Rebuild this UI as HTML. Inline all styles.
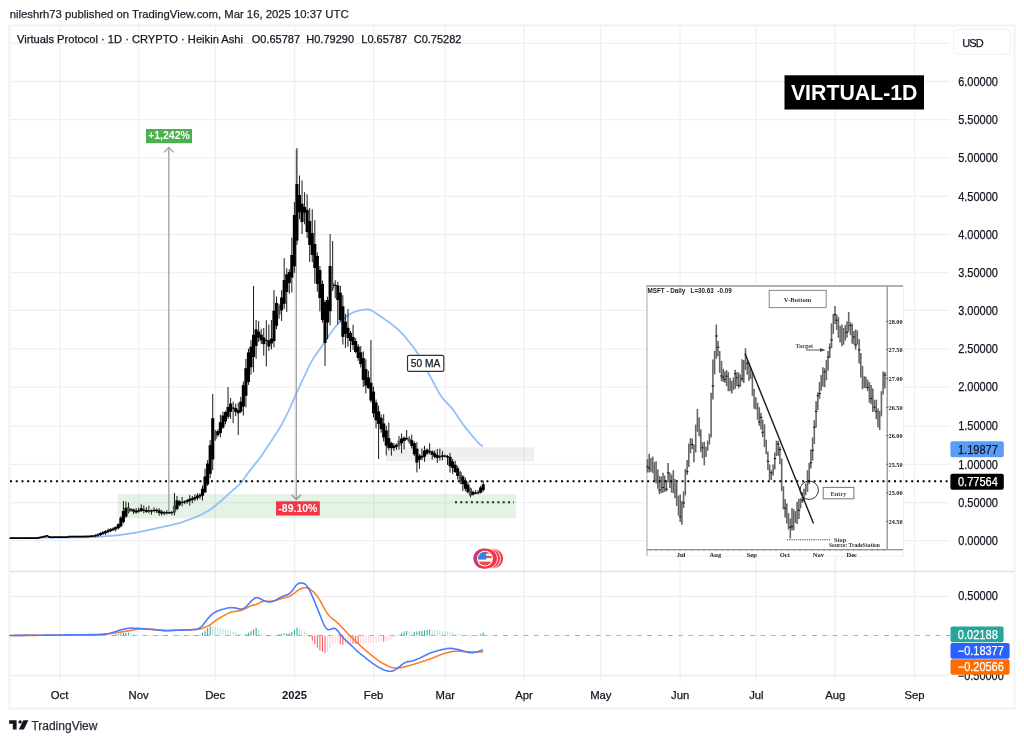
<!DOCTYPE html>
<html><head><meta charset="utf-8"><style>
html,body{margin:0;padding:0;background:#fff;width:1024px;height:742px;overflow:hidden;position:relative}
svg{will-change:transform}
</style></head><body>
<svg width="1024" height="742" viewBox="0 0 1024 742" style="position:absolute;left:0;top:0">
<rect width="1024" height="742" fill="#fff"/>
<line x1="10" y1="43.4" x2="950" y2="43.4" stroke="#f0f0f0" stroke-width="1.3"/>
<line x1="10" y1="81.5" x2="950" y2="81.5" stroke="#f0f0f0" stroke-width="1.3"/>
<line x1="10" y1="119.6" x2="950" y2="119.6" stroke="#f0f0f0" stroke-width="1.3"/>
<line x1="10" y1="157.9" x2="950" y2="157.9" stroke="#f0f0f0" stroke-width="1.3"/>
<line x1="10" y1="196.3" x2="950" y2="196.3" stroke="#f0f0f0" stroke-width="1.3"/>
<line x1="10" y1="234.5" x2="950" y2="234.5" stroke="#f0f0f0" stroke-width="1.3"/>
<line x1="10" y1="272.6" x2="950" y2="272.6" stroke="#f0f0f0" stroke-width="1.3"/>
<line x1="10" y1="310.4" x2="950" y2="310.4" stroke="#f0f0f0" stroke-width="1.3"/>
<line x1="10" y1="348.9" x2="950" y2="348.9" stroke="#f0f0f0" stroke-width="1.3"/>
<line x1="10" y1="387.2" x2="950" y2="387.2" stroke="#f0f0f0" stroke-width="1.3"/>
<line x1="10" y1="425.9" x2="950" y2="425.9" stroke="#f0f0f0" stroke-width="1.3"/>
<line x1="10" y1="464.3" x2="950" y2="464.3" stroke="#f0f0f0" stroke-width="1.3"/>
<line x1="10" y1="502.6" x2="950" y2="502.6" stroke="#f0f0f0" stroke-width="1.3"/>
<line x1="10" y1="540.7" x2="950" y2="540.7" stroke="#f0f0f0" stroke-width="1.3"/>
<line x1="10" y1="596.5" x2="950" y2="596.5" stroke="#f0f0f0" stroke-width="1.3"/>
<line x1="10" y1="675.5" x2="950" y2="675.5" stroke="#f0f0f0" stroke-width="1.3"/>
<line x1="59.6" y1="26" x2="59.6" y2="681" stroke="#f0f0f0" stroke-width="1.3"/>
<line x1="138.6" y1="26" x2="138.6" y2="681" stroke="#f0f0f0" stroke-width="1.3"/>
<line x1="215.2" y1="26" x2="215.2" y2="681" stroke="#f0f0f0" stroke-width="1.3"/>
<line x1="294.5" y1="26" x2="294.5" y2="681" stroke="#f0f0f0" stroke-width="1.3"/>
<line x1="373.6" y1="26" x2="373.6" y2="681" stroke="#f0f0f0" stroke-width="1.3"/>
<line x1="445.3" y1="26" x2="445.3" y2="681" stroke="#f0f0f0" stroke-width="1.3"/>
<line x1="524" y1="26" x2="524" y2="681" stroke="#f0f0f0" stroke-width="1.3"/>
<line x1="600.8" y1="26" x2="600.8" y2="681" stroke="#f0f0f0" stroke-width="1.3"/>
<line x1="680.1" y1="26" x2="680.1" y2="681" stroke="#f0f0f0" stroke-width="1.3"/>
<line x1="756.4" y1="26" x2="756.4" y2="681" stroke="#f0f0f0" stroke-width="1.3"/>
<line x1="835.2" y1="26" x2="835.2" y2="681" stroke="#f0f0f0" stroke-width="1.3"/>
<line x1="914.5" y1="26" x2="914.5" y2="681" stroke="#f0f0f0" stroke-width="1.3"/>
<rect x="117.5" y="494" width="398.5" height="24.3" fill="rgb(76,175,80)" fill-opacity="0.15"/>
<rect x="386" y="447.3" width="148" height="14" fill="rgb(120,123,134)" fill-opacity="0.12"/>
<rect x="9.5" y="25.5" width="1005" height="683" fill="none" stroke="#f2f2f2" stroke-width="2"/>
<line x1="10" y1="571.5" x2="1014" y2="571.5" stroke="#e0e3eb" stroke-width="1.5"/>
<line x1="10" y1="675.5" x2="950" y2="675.5" stroke="#f0f0f0" stroke-width="1.3"/>
<rect x="646.5" y="285.7" width="257" height="270.5" fill="#fff" stroke="#f0f0f0" stroke-width="1"/>
<line x1="647" y1="286" x2="647" y2="556" stroke="#b0b0b0" stroke-width="1"/>
<line x1="646.5" y1="286" x2="903" y2="286" stroke="#999" stroke-width="1.6"/>
<line x1="887.2" y1="287" x2="887.2" y2="549" stroke="#888" stroke-width="1.2"/>
<line x1="647" y1="549.7" x2="903" y2="549.7" stroke="#707070" stroke-width="1.1"/>
<line x1="647.5" y1="459.2" x2="647.5" y2="472.5" stroke="#666" stroke-width="1.6"/>
<line x1="646.3" y1="466.8" x2="648.9" y2="466.8" stroke="#1a1a1a" stroke-width="1.1"/>
<line x1="649.2" y1="453.7" x2="649.2" y2="472.4" stroke="#666" stroke-width="1.6"/>
<line x1="648.0" y1="468.0" x2="650.6" y2="468.0" stroke="#1a1a1a" stroke-width="1.1"/>
<line x1="650.9" y1="458.1" x2="650.9" y2="471.8" stroke="#666" stroke-width="1.6"/>
<line x1="652.7" y1="456.5" x2="652.7" y2="473.1" stroke="#666" stroke-width="1.6"/>
<line x1="654.4" y1="462.1" x2="654.4" y2="481.0" stroke="#666" stroke-width="1.6"/>
<line x1="656.1" y1="461.3" x2="656.1" y2="483.4" stroke="#666" stroke-width="1.6"/>
<line x1="657.8" y1="469.4" x2="657.8" y2="488.8" stroke="#666" stroke-width="1.6"/>
<line x1="659.5" y1="475.9" x2="659.5" y2="494.2" stroke="#666" stroke-width="1.6"/>
<line x1="658.3" y1="490.2" x2="660.9" y2="490.2" stroke="#1a1a1a" stroke-width="1.1"/>
<line x1="661.3" y1="476.6" x2="661.3" y2="493.2" stroke="#666" stroke-width="1.6"/>
<line x1="663.0" y1="472.7" x2="663.0" y2="492.7" stroke="#666" stroke-width="1.6"/>
<line x1="661.8" y1="487.5" x2="664.4" y2="487.5" stroke="#1a1a1a" stroke-width="1.1"/>
<line x1="664.7" y1="475.6" x2="664.7" y2="491.8" stroke="#666" stroke-width="1.6"/>
<line x1="666.4" y1="480.1" x2="666.4" y2="491.5" stroke="#666" stroke-width="1.6"/>
<line x1="665.2" y1="489.2" x2="667.8" y2="489.2" stroke="#1a1a1a" stroke-width="1.1"/>
<line x1="668.1" y1="462.9" x2="668.1" y2="482.6" stroke="#666" stroke-width="1.6"/>
<line x1="666.9" y1="472.9" x2="669.5" y2="472.9" stroke="#1a1a1a" stroke-width="1.1"/>
<line x1="669.9" y1="472.6" x2="669.9" y2="488.0" stroke="#666" stroke-width="1.6"/>
<line x1="671.6" y1="474.5" x2="671.6" y2="492.7" stroke="#666" stroke-width="1.6"/>
<line x1="673.3" y1="470.2" x2="673.3" y2="493.2" stroke="#666" stroke-width="1.6"/>
<line x1="675.0" y1="478.9" x2="675.0" y2="498.3" stroke="#666" stroke-width="1.6"/>
<line x1="676.7" y1="482.5" x2="676.7" y2="506.0" stroke="#666" stroke-width="1.6"/>
<line x1="678.5" y1="495.7" x2="678.5" y2="515.7" stroke="#666" stroke-width="1.6"/>
<line x1="680.2" y1="494.6" x2="680.2" y2="522.0" stroke="#666" stroke-width="1.6"/>
<line x1="679.0" y1="516.6" x2="681.6" y2="516.6" stroke="#1a1a1a" stroke-width="1.1"/>
<line x1="681.9" y1="500.9" x2="681.9" y2="524.8" stroke="#666" stroke-width="1.6"/>
<line x1="683.6" y1="491.2" x2="683.6" y2="507.9" stroke="#666" stroke-width="1.6"/>
<line x1="682.4" y1="503.0" x2="685.0" y2="503.0" stroke="#1a1a1a" stroke-width="1.1"/>
<line x1="685.3" y1="468.9" x2="685.3" y2="495.4" stroke="#666" stroke-width="1.6"/>
<line x1="687.1" y1="460.1" x2="687.1" y2="475.0" stroke="#666" stroke-width="1.6"/>
<line x1="685.9" y1="471.7" x2="688.5" y2="471.7" stroke="#1a1a1a" stroke-width="1.1"/>
<line x1="688.8" y1="443.4" x2="688.8" y2="467.1" stroke="#666" stroke-width="1.6"/>
<line x1="690.5" y1="438.2" x2="690.5" y2="453.3" stroke="#666" stroke-width="1.6"/>
<line x1="692.2" y1="438.5" x2="692.2" y2="449.0" stroke="#666" stroke-width="1.6"/>
<line x1="691.0" y1="444.5" x2="693.6" y2="444.5" stroke="#1a1a1a" stroke-width="1.1"/>
<line x1="693.9" y1="444.8" x2="693.9" y2="462.3" stroke="#666" stroke-width="1.6"/>
<line x1="695.7" y1="424.6" x2="695.7" y2="452.6" stroke="#666" stroke-width="1.6"/>
<line x1="697.4" y1="409.0" x2="697.4" y2="431.8" stroke="#666" stroke-width="1.6"/>
<line x1="699.1" y1="417.3" x2="699.1" y2="436.3" stroke="#666" stroke-width="1.6"/>
<line x1="700.8" y1="429.3" x2="700.8" y2="451.9" stroke="#666" stroke-width="1.6"/>
<line x1="702.5" y1="442.2" x2="702.5" y2="458.2" stroke="#666" stroke-width="1.6"/>
<line x1="701.3" y1="447.8" x2="703.9" y2="447.8" stroke="#1a1a1a" stroke-width="1.1"/>
<line x1="704.3" y1="441.7" x2="704.3" y2="465.4" stroke="#666" stroke-width="1.6"/>
<line x1="706.0" y1="446.7" x2="706.0" y2="456.9" stroke="#666" stroke-width="1.6"/>
<line x1="707.7" y1="440.6" x2="707.7" y2="450.8" stroke="#666" stroke-width="1.6"/>
<line x1="709.4" y1="433.6" x2="709.4" y2="444.5" stroke="#666" stroke-width="1.6"/>
<line x1="711.1" y1="392.7" x2="711.1" y2="437.5" stroke="#666" stroke-width="1.6"/>
<line x1="712.9" y1="359.5" x2="712.9" y2="399.6" stroke="#666" stroke-width="1.6"/>
<line x1="711.7" y1="385.9" x2="714.3" y2="385.9" stroke="#1a1a1a" stroke-width="1.1"/>
<line x1="714.6" y1="350.9" x2="714.6" y2="374.3" stroke="#666" stroke-width="1.6"/>
<line x1="716.3" y1="324.5" x2="716.3" y2="358.8" stroke="#666" stroke-width="1.6"/>
<line x1="715.1" y1="336.0" x2="717.7" y2="336.0" stroke="#1a1a1a" stroke-width="1.1"/>
<line x1="718.0" y1="341.1" x2="718.0" y2="356.3" stroke="#666" stroke-width="1.6"/>
<line x1="716.8" y1="347.3" x2="719.4" y2="347.3" stroke="#1a1a1a" stroke-width="1.1"/>
<line x1="719.7" y1="351.1" x2="719.7" y2="372.8" stroke="#666" stroke-width="1.6"/>
<line x1="721.5" y1="360.8" x2="721.5" y2="381.1" stroke="#666" stroke-width="1.6"/>
<line x1="720.3" y1="375.9" x2="722.9" y2="375.9" stroke="#1a1a1a" stroke-width="1.1"/>
<line x1="723.2" y1="368.8" x2="723.2" y2="382.1" stroke="#666" stroke-width="1.6"/>
<line x1="722.0" y1="377.3" x2="724.6" y2="377.3" stroke="#1a1a1a" stroke-width="1.1"/>
<line x1="724.9" y1="371.2" x2="724.9" y2="382.7" stroke="#666" stroke-width="1.6"/>
<line x1="723.7" y1="379.4" x2="726.3" y2="379.4" stroke="#1a1a1a" stroke-width="1.1"/>
<line x1="726.6" y1="370.1" x2="726.6" y2="386.2" stroke="#666" stroke-width="1.6"/>
<line x1="725.4" y1="376.2" x2="728.0" y2="376.2" stroke="#1a1a1a" stroke-width="1.1"/>
<line x1="728.3" y1="372.1" x2="728.3" y2="391.2" stroke="#666" stroke-width="1.6"/>
<line x1="730.1" y1="378.1" x2="730.1" y2="391.3" stroke="#666" stroke-width="1.6"/>
<line x1="731.8" y1="380.8" x2="731.8" y2="393.5" stroke="#666" stroke-width="1.6"/>
<line x1="733.5" y1="377.5" x2="733.5" y2="390.1" stroke="#666" stroke-width="1.6"/>
<line x1="735.2" y1="369.8" x2="735.2" y2="388.7" stroke="#666" stroke-width="1.6"/>
<line x1="734.0" y1="373.7" x2="736.6" y2="373.7" stroke="#1a1a1a" stroke-width="1.1"/>
<line x1="736.9" y1="372.2" x2="736.9" y2="386.3" stroke="#666" stroke-width="1.6"/>
<line x1="735.7" y1="377.7" x2="738.3" y2="377.7" stroke="#1a1a1a" stroke-width="1.1"/>
<line x1="738.7" y1="372.5" x2="738.7" y2="388.3" stroke="#666" stroke-width="1.6"/>
<line x1="737.5" y1="385.4" x2="740.1" y2="385.4" stroke="#1a1a1a" stroke-width="1.1"/>
<line x1="740.4" y1="374.6" x2="740.4" y2="386.8" stroke="#666" stroke-width="1.6"/>
<line x1="742.1" y1="359.3" x2="742.1" y2="381.6" stroke="#666" stroke-width="1.6"/>
<line x1="740.9" y1="378.7" x2="743.5" y2="378.7" stroke="#1a1a1a" stroke-width="1.1"/>
<line x1="743.8" y1="359.9" x2="743.8" y2="382.9" stroke="#666" stroke-width="1.6"/>
<line x1="745.5" y1="348.2" x2="745.5" y2="370.0" stroke="#666" stroke-width="1.6"/>
<line x1="747.3" y1="360.7" x2="747.3" y2="374.7" stroke="#666" stroke-width="1.6"/>
<line x1="746.1" y1="363.4" x2="748.7" y2="363.4" stroke="#1a1a1a" stroke-width="1.1"/>
<line x1="749.0" y1="362.5" x2="749.0" y2="380.8" stroke="#666" stroke-width="1.6"/>
<line x1="750.7" y1="368.2" x2="750.7" y2="378.9" stroke="#666" stroke-width="1.6"/>
<line x1="752.4" y1="372.8" x2="752.4" y2="395.8" stroke="#666" stroke-width="1.6"/>
<line x1="754.1" y1="389.0" x2="754.1" y2="408.7" stroke="#666" stroke-width="1.6"/>
<line x1="755.9" y1="397.2" x2="755.9" y2="409.6" stroke="#666" stroke-width="1.6"/>
<line x1="757.6" y1="402.7" x2="757.6" y2="420.0" stroke="#666" stroke-width="1.6"/>
<line x1="759.3" y1="407.2" x2="759.3" y2="425.8" stroke="#666" stroke-width="1.6"/>
<line x1="758.1" y1="421.8" x2="760.7" y2="421.8" stroke="#1a1a1a" stroke-width="1.1"/>
<line x1="761.0" y1="412.8" x2="761.0" y2="429.5" stroke="#666" stroke-width="1.6"/>
<line x1="759.8" y1="417.3" x2="762.4" y2="417.3" stroke="#1a1a1a" stroke-width="1.1"/>
<line x1="762.7" y1="419.6" x2="762.7" y2="437.1" stroke="#666" stroke-width="1.6"/>
<line x1="761.5" y1="432.3" x2="764.1" y2="432.3" stroke="#1a1a1a" stroke-width="1.1"/>
<line x1="764.5" y1="424.2" x2="764.5" y2="447.1" stroke="#666" stroke-width="1.6"/>
<line x1="766.2" y1="439.8" x2="766.2" y2="454.2" stroke="#666" stroke-width="1.6"/>
<line x1="767.9" y1="451.5" x2="767.9" y2="470.1" stroke="#666" stroke-width="1.6"/>
<line x1="766.7" y1="461.2" x2="769.3" y2="461.2" stroke="#1a1a1a" stroke-width="1.1"/>
<line x1="769.6" y1="464.4" x2="769.6" y2="480.3" stroke="#666" stroke-width="1.6"/>
<line x1="771.3" y1="470.0" x2="771.3" y2="480.0" stroke="#666" stroke-width="1.6"/>
<line x1="770.1" y1="472.7" x2="772.7" y2="472.7" stroke="#1a1a1a" stroke-width="1.1"/>
<line x1="773.1" y1="464.5" x2="773.1" y2="475.4" stroke="#666" stroke-width="1.6"/>
<line x1="774.8" y1="452.5" x2="774.8" y2="469.5" stroke="#666" stroke-width="1.6"/>
<line x1="773.6" y1="458.6" x2="776.2" y2="458.6" stroke="#1a1a1a" stroke-width="1.1"/>
<line x1="776.5" y1="440.7" x2="776.5" y2="456.1" stroke="#666" stroke-width="1.6"/>
<line x1="778.2" y1="440.7" x2="778.2" y2="455.7" stroke="#666" stroke-width="1.6"/>
<line x1="777.0" y1="444.1" x2="779.6" y2="444.1" stroke="#1a1a1a" stroke-width="1.1"/>
<line x1="779.9" y1="446.5" x2="779.9" y2="464.3" stroke="#666" stroke-width="1.6"/>
<line x1="778.7" y1="449.6" x2="781.3" y2="449.6" stroke="#1a1a1a" stroke-width="1.1"/>
<line x1="781.7" y1="458.5" x2="781.7" y2="490.9" stroke="#666" stroke-width="1.6"/>
<line x1="783.4" y1="486.2" x2="783.4" y2="509.4" stroke="#666" stroke-width="1.6"/>
<line x1="785.1" y1="498.9" x2="785.1" y2="517.6" stroke="#666" stroke-width="1.6"/>
<line x1="783.9" y1="508.2" x2="786.5" y2="508.2" stroke="#1a1a1a" stroke-width="1.1"/>
<line x1="786.8" y1="503.5" x2="786.8" y2="523.4" stroke="#666" stroke-width="1.6"/>
<line x1="788.5" y1="513.2" x2="788.5" y2="529.6" stroke="#666" stroke-width="1.6"/>
<line x1="790.3" y1="518.6" x2="790.3" y2="538.4" stroke="#666" stroke-width="1.6"/>
<line x1="789.1" y1="527.3" x2="791.7" y2="527.3" stroke="#1a1a1a" stroke-width="1.1"/>
<line x1="792.0" y1="508.1" x2="792.0" y2="530.4" stroke="#666" stroke-width="1.6"/>
<line x1="790.8" y1="526.5" x2="793.4" y2="526.5" stroke="#1a1a1a" stroke-width="1.1"/>
<line x1="793.7" y1="509.2" x2="793.7" y2="530.3" stroke="#666" stroke-width="1.6"/>
<line x1="795.4" y1="511.0" x2="795.4" y2="522.8" stroke="#666" stroke-width="1.6"/>
<line x1="797.1" y1="501.7" x2="797.1" y2="524.1" stroke="#666" stroke-width="1.6"/>
<line x1="798.9" y1="498.8" x2="798.9" y2="519.0" stroke="#666" stroke-width="1.6"/>
<line x1="797.7" y1="510.3" x2="800.3" y2="510.3" stroke="#1a1a1a" stroke-width="1.1"/>
<line x1="800.6" y1="498.4" x2="800.6" y2="508.5" stroke="#666" stroke-width="1.6"/>
<line x1="802.3" y1="492.4" x2="802.3" y2="503.0" stroke="#666" stroke-width="1.6"/>
<line x1="801.1" y1="500.2" x2="803.7" y2="500.2" stroke="#1a1a1a" stroke-width="1.1"/>
<line x1="804.0" y1="488.8" x2="804.0" y2="501.3" stroke="#666" stroke-width="1.6"/>
<line x1="805.7" y1="483.5" x2="805.7" y2="495.2" stroke="#666" stroke-width="1.6"/>
<line x1="807.5" y1="470.2" x2="807.5" y2="491.9" stroke="#666" stroke-width="1.6"/>
<line x1="809.2" y1="462.9" x2="809.2" y2="484.1" stroke="#666" stroke-width="1.6"/>
<line x1="810.9" y1="449.5" x2="810.9" y2="468.6" stroke="#666" stroke-width="1.6"/>
<line x1="809.7" y1="462.8" x2="812.3" y2="462.8" stroke="#1a1a1a" stroke-width="1.1"/>
<line x1="812.6" y1="437.5" x2="812.6" y2="460.6" stroke="#666" stroke-width="1.6"/>
<line x1="811.4" y1="450.3" x2="814.0" y2="450.3" stroke="#1a1a1a" stroke-width="1.1"/>
<line x1="814.3" y1="420.2" x2="814.3" y2="444.0" stroke="#666" stroke-width="1.6"/>
<line x1="813.1" y1="427.2" x2="815.7" y2="427.2" stroke="#1a1a1a" stroke-width="1.1"/>
<line x1="816.1" y1="401.3" x2="816.1" y2="427.4" stroke="#666" stroke-width="1.6"/>
<line x1="814.9" y1="411.4" x2="817.5" y2="411.4" stroke="#1a1a1a" stroke-width="1.1"/>
<line x1="817.8" y1="392.6" x2="817.8" y2="410.1" stroke="#666" stroke-width="1.6"/>
<line x1="816.6" y1="395.7" x2="819.2" y2="395.7" stroke="#1a1a1a" stroke-width="1.1"/>
<line x1="819.5" y1="381.9" x2="819.5" y2="398.9" stroke="#666" stroke-width="1.6"/>
<line x1="818.3" y1="393.6" x2="820.9" y2="393.6" stroke="#1a1a1a" stroke-width="1.1"/>
<line x1="821.2" y1="375.0" x2="821.2" y2="390.8" stroke="#666" stroke-width="1.6"/>
<line x1="822.9" y1="367.3" x2="822.9" y2="386.7" stroke="#666" stroke-width="1.6"/>
<line x1="824.7" y1="368.3" x2="824.7" y2="387.3" stroke="#666" stroke-width="1.6"/>
<line x1="823.5" y1="371.7" x2="826.1" y2="371.7" stroke="#1a1a1a" stroke-width="1.1"/>
<line x1="826.4" y1="359.9" x2="826.4" y2="380.3" stroke="#666" stroke-width="1.6"/>
<line x1="828.1" y1="350.8" x2="828.1" y2="370.6" stroke="#666" stroke-width="1.6"/>
<line x1="826.9" y1="357.1" x2="829.5" y2="357.1" stroke="#1a1a1a" stroke-width="1.1"/>
<line x1="829.8" y1="343.3" x2="829.8" y2="358.0" stroke="#666" stroke-width="1.6"/>
<line x1="828.6" y1="347.8" x2="831.2" y2="347.8" stroke="#1a1a1a" stroke-width="1.1"/>
<line x1="831.5" y1="323.4" x2="831.5" y2="348.0" stroke="#666" stroke-width="1.6"/>
<line x1="830.3" y1="340.0" x2="832.9" y2="340.0" stroke="#1a1a1a" stroke-width="1.1"/>
<line x1="833.3" y1="313.9" x2="833.3" y2="333.9" stroke="#666" stroke-width="1.6"/>
<line x1="835.0" y1="306.0" x2="835.0" y2="323.9" stroke="#666" stroke-width="1.6"/>
<line x1="833.8" y1="314.6" x2="836.4" y2="314.6" stroke="#1a1a1a" stroke-width="1.1"/>
<line x1="836.7" y1="314.6" x2="836.7" y2="329.9" stroke="#666" stroke-width="1.6"/>
<line x1="835.5" y1="320.2" x2="838.1" y2="320.2" stroke="#1a1a1a" stroke-width="1.1"/>
<line x1="838.4" y1="316.9" x2="838.4" y2="337.8" stroke="#666" stroke-width="1.6"/>
<line x1="840.1" y1="325.7" x2="840.1" y2="342.4" stroke="#666" stroke-width="1.6"/>
<line x1="841.9" y1="324.5" x2="841.9" y2="346.2" stroke="#666" stroke-width="1.6"/>
<line x1="843.6" y1="327.9" x2="843.6" y2="344.7" stroke="#666" stroke-width="1.6"/>
<line x1="845.3" y1="325.0" x2="845.3" y2="340.6" stroke="#666" stroke-width="1.6"/>
<line x1="847.0" y1="321.2" x2="847.0" y2="337.8" stroke="#666" stroke-width="1.6"/>
<line x1="845.8" y1="332.2" x2="848.4" y2="332.2" stroke="#1a1a1a" stroke-width="1.1"/>
<line x1="848.7" y1="312.1" x2="848.7" y2="331.6" stroke="#666" stroke-width="1.6"/>
<line x1="850.5" y1="321.9" x2="850.5" y2="335.2" stroke="#666" stroke-width="1.6"/>
<line x1="849.3" y1="325.6" x2="851.9" y2="325.6" stroke="#1a1a1a" stroke-width="1.1"/>
<line x1="852.2" y1="323.8" x2="852.2" y2="343.7" stroke="#666" stroke-width="1.6"/>
<line x1="853.9" y1="331.0" x2="853.9" y2="344.5" stroke="#666" stroke-width="1.6"/>
<line x1="852.7" y1="337.0" x2="855.3" y2="337.0" stroke="#1a1a1a" stroke-width="1.1"/>
<line x1="855.6" y1="329.4" x2="855.6" y2="349.6" stroke="#666" stroke-width="1.6"/>
<line x1="854.4" y1="344.9" x2="857.0" y2="344.9" stroke="#1a1a1a" stroke-width="1.1"/>
<line x1="857.3" y1="330.4" x2="857.3" y2="344.5" stroke="#666" stroke-width="1.6"/>
<line x1="859.1" y1="338.9" x2="859.1" y2="363.6" stroke="#666" stroke-width="1.6"/>
<line x1="857.9" y1="349.9" x2="860.5" y2="349.9" stroke="#1a1a1a" stroke-width="1.1"/>
<line x1="860.8" y1="353.0" x2="860.8" y2="377.4" stroke="#666" stroke-width="1.6"/>
<line x1="862.5" y1="365.9" x2="862.5" y2="389.3" stroke="#666" stroke-width="1.6"/>
<line x1="864.2" y1="376.2" x2="864.2" y2="387.9" stroke="#666" stroke-width="1.6"/>
<line x1="865.9" y1="376.7" x2="865.9" y2="388.3" stroke="#666" stroke-width="1.6"/>
<line x1="867.7" y1="379.7" x2="867.7" y2="391.1" stroke="#666" stroke-width="1.6"/>
<line x1="866.5" y1="387.4" x2="869.1" y2="387.4" stroke="#1a1a1a" stroke-width="1.1"/>
<line x1="869.4" y1="382.2" x2="869.4" y2="402.8" stroke="#666" stroke-width="1.6"/>
<line x1="871.1" y1="385.1" x2="871.1" y2="404.2" stroke="#666" stroke-width="1.6"/>
<line x1="869.9" y1="398.5" x2="872.5" y2="398.5" stroke="#1a1a1a" stroke-width="1.1"/>
<line x1="872.8" y1="388.6" x2="872.8" y2="412.1" stroke="#666" stroke-width="1.6"/>
<line x1="874.5" y1="399.7" x2="874.5" y2="411.3" stroke="#666" stroke-width="1.6"/>
<line x1="873.3" y1="407.2" x2="875.9" y2="407.2" stroke="#1a1a1a" stroke-width="1.1"/>
<line x1="876.3" y1="399.7" x2="876.3" y2="419.2" stroke="#666" stroke-width="1.6"/>
<line x1="875.1" y1="411.7" x2="877.7" y2="411.7" stroke="#1a1a1a" stroke-width="1.1"/>
<line x1="878.0" y1="408.5" x2="878.0" y2="427.3" stroke="#666" stroke-width="1.6"/>
<line x1="879.7" y1="410.8" x2="879.7" y2="430.0" stroke="#666" stroke-width="1.6"/>
<line x1="881.4" y1="391.2" x2="881.4" y2="416.3" stroke="#666" stroke-width="1.6"/>
<line x1="883.1" y1="371.4" x2="883.1" y2="394.6" stroke="#666" stroke-width="1.6"/>
<line x1="884.9" y1="372.1" x2="884.9" y2="388.5" stroke="#666" stroke-width="1.6"/>
<line x1="883.7" y1="375.0" x2="886.3" y2="375.0" stroke="#1a1a1a" stroke-width="1.1"/>
<line x1="745" y1="353.6" x2="813.5" y2="523.4" stroke="#1a1a1a" stroke-width="1.4"/>
<circle cx="809.2" cy="490.2" r="9.2" fill="none" stroke="#333" stroke-width="1"/>
<rect x="769.2" y="290.4" width="57" height="17.2" fill="#fff" stroke="#888" stroke-width="1"/>
<text x="797.5" y="301.6" font-family='"Liberation Serif", "DejaVu Serif", serif' font-size="6.6" font-weight="bold" fill="#333" text-anchor="middle" >V-Bottom</text>
<rect x="823.2" y="487.4" width="30.7" height="11.4" fill="#fff" stroke="#777" stroke-width="1"/>
<text x="838.5" y="495.6" font-family='"Liberation Serif", "DejaVu Serif", serif' font-size="6.4" font-weight="bold" fill="#444" text-anchor="middle" >Entry</text>
<text x="795.5" y="347.8" font-family='"Liberation Serif", "DejaVu Serif", serif' font-size="6.3" font-weight="bold" fill="#444" text-anchor="start" >Target</text>
<line x1="806" y1="350" x2="823" y2="350" stroke="#444" stroke-width="0.9"/><polyline points="820,348.5 824.7,350 820,351.5" fill="#444" stroke="#444" stroke-width="0.6"/>
<line x1="787" y1="539.8" x2="831" y2="539.8" stroke="#444" stroke-width="1" stroke-dasharray="1.2 1"/>
<text x="834" y="542.2" font-family='"Liberation Serif", "DejaVu Serif", serif' font-size="6.3" font-weight="bold" fill="#333" text-anchor="start" >Stop</text>
<text x="829" y="547" font-family='"Liberation Serif", "DejaVu Serif", serif' font-size="6.3" font-weight="bold" fill="#333" text-anchor="start" textLength="51" lengthAdjust="spacingAndGlyphs">Source: TradeStation</text>
<text x="647.5" y="293.3" font-family='"Liberation Sans", "DejaVu Sans", sans-serif' font-size="6.3" font-weight="bold" fill="#222" text-anchor="start" >MSFT - Daily &#160; L=30.63 &#160;-0.09</text>
<text x="888.5" y="323.59999999999997" font-family='"Liberation Serif", "DejaVu Serif", serif' font-size="6.3" font-weight="bold" fill="#222" text-anchor="start" >28.00</text>
<line x1="886" y1="321.4" x2="888.5" y2="321.4" stroke="#555" stroke-width="0.8"/>
<text x="888.5" y="351.7" font-family='"Liberation Serif", "DejaVu Serif", serif' font-size="6.3" font-weight="bold" fill="#222" text-anchor="start" >27.50</text>
<line x1="886" y1="349.5" x2="888.5" y2="349.5" stroke="#555" stroke-width="0.8"/>
<text x="888.5" y="380.8" font-family='"Liberation Serif", "DejaVu Serif", serif' font-size="6.3" font-weight="bold" fill="#222" text-anchor="start" >27.00</text>
<line x1="886" y1="378.6" x2="888.5" y2="378.6" stroke="#555" stroke-width="0.8"/>
<text x="888.5" y="409.59999999999997" font-family='"Liberation Serif", "DejaVu Serif", serif' font-size="6.3" font-weight="bold" fill="#222" text-anchor="start" >26.50</text>
<line x1="886" y1="407.4" x2="888.5" y2="407.4" stroke="#555" stroke-width="0.8"/>
<text x="888.5" y="437.8" font-family='"Liberation Serif", "DejaVu Serif", serif' font-size="6.3" font-weight="bold" fill="#222" text-anchor="start" >26.00</text>
<line x1="886" y1="435.6" x2="888.5" y2="435.6" stroke="#555" stroke-width="0.8"/>
<text x="888.5" y="466.5" font-family='"Liberation Serif", "DejaVu Serif", serif' font-size="6.3" font-weight="bold" fill="#222" text-anchor="start" >25.50</text>
<line x1="886" y1="464.3" x2="888.5" y2="464.3" stroke="#555" stroke-width="0.8"/>
<text x="888.5" y="495.0" font-family='"Liberation Serif", "DejaVu Serif", serif' font-size="6.3" font-weight="bold" fill="#222" text-anchor="start" >25.00</text>
<line x1="886" y1="492.8" x2="888.5" y2="492.8" stroke="#555" stroke-width="0.8"/>
<text x="888.5" y="523.5" font-family='"Liberation Serif", "DejaVu Serif", serif' font-size="6.3" font-weight="bold" fill="#222" text-anchor="start" >24.50</text>
<line x1="886" y1="521.3" x2="888.5" y2="521.3" stroke="#555" stroke-width="0.8"/>
<text x="681" y="556.5" font-family='"Liberation Serif", "DejaVu Serif", serif' font-size="6.5" font-weight="bold" fill="#222" text-anchor="middle" >Jul</text>
<text x="715.4" y="556.5" font-family='"Liberation Serif", "DejaVu Serif", serif' font-size="6.5" font-weight="bold" fill="#222" text-anchor="middle" >Aug</text>
<text x="751.8" y="556.5" font-family='"Liberation Serif", "DejaVu Serif", serif' font-size="6.5" font-weight="bold" fill="#222" text-anchor="middle" >Sep</text>
<text x="784.8" y="556.5" font-family='"Liberation Serif", "DejaVu Serif", serif' font-size="6.5" font-weight="bold" fill="#222" text-anchor="middle" >Oct</text>
<text x="818.3" y="556.5" font-family='"Liberation Serif", "DejaVu Serif", serif' font-size="6.5" font-weight="bold" fill="#222" text-anchor="middle" >Nov</text>
<text x="851.7" y="556.5" font-family='"Liberation Serif", "DejaVu Serif", serif' font-size="6.5" font-weight="bold" fill="#222" text-anchor="middle" >Dec</text>
<line x1="650" y1="549" x2="650" y2="551" stroke="#777" stroke-width="0.6"/>
<line x1="656" y1="549" x2="656" y2="551" stroke="#777" stroke-width="0.6"/>
<line x1="662" y1="549" x2="662" y2="551" stroke="#777" stroke-width="0.6"/>
<line x1="668" y1="549" x2="668" y2="551" stroke="#777" stroke-width="0.6"/>
<line x1="674" y1="549" x2="674" y2="551" stroke="#777" stroke-width="0.6"/>
<line x1="680" y1="549" x2="680" y2="551" stroke="#777" stroke-width="0.6"/>
<line x1="686" y1="549" x2="686" y2="551" stroke="#777" stroke-width="0.6"/>
<line x1="692" y1="549" x2="692" y2="551" stroke="#777" stroke-width="0.6"/>
<line x1="698" y1="549" x2="698" y2="551" stroke="#777" stroke-width="0.6"/>
<line x1="704" y1="549" x2="704" y2="551" stroke="#777" stroke-width="0.6"/>
<line x1="710" y1="549" x2="710" y2="551" stroke="#777" stroke-width="0.6"/>
<line x1="716" y1="549" x2="716" y2="551" stroke="#777" stroke-width="0.6"/>
<line x1="722" y1="549" x2="722" y2="551" stroke="#777" stroke-width="0.6"/>
<line x1="728" y1="549" x2="728" y2="551" stroke="#777" stroke-width="0.6"/>
<line x1="734" y1="549" x2="734" y2="551" stroke="#777" stroke-width="0.6"/>
<line x1="740" y1="549" x2="740" y2="551" stroke="#777" stroke-width="0.6"/>
<line x1="746" y1="549" x2="746" y2="551" stroke="#777" stroke-width="0.6"/>
<line x1="752" y1="549" x2="752" y2="551" stroke="#777" stroke-width="0.6"/>
<line x1="758" y1="549" x2="758" y2="551" stroke="#777" stroke-width="0.6"/>
<line x1="764" y1="549" x2="764" y2="551" stroke="#777" stroke-width="0.6"/>
<line x1="770" y1="549" x2="770" y2="551" stroke="#777" stroke-width="0.6"/>
<line x1="776" y1="549" x2="776" y2="551" stroke="#777" stroke-width="0.6"/>
<line x1="782" y1="549" x2="782" y2="551" stroke="#777" stroke-width="0.6"/>
<line x1="788" y1="549" x2="788" y2="551" stroke="#777" stroke-width="0.6"/>
<line x1="794" y1="549" x2="794" y2="551" stroke="#777" stroke-width="0.6"/>
<line x1="800" y1="549" x2="800" y2="551" stroke="#777" stroke-width="0.6"/>
<line x1="806" y1="549" x2="806" y2="551" stroke="#777" stroke-width="0.6"/>
<line x1="812" y1="549" x2="812" y2="551" stroke="#777" stroke-width="0.6"/>
<line x1="818" y1="549" x2="818" y2="551" stroke="#777" stroke-width="0.6"/>
<line x1="824" y1="549" x2="824" y2="551" stroke="#777" stroke-width="0.6"/>
<line x1="830" y1="549" x2="830" y2="551" stroke="#777" stroke-width="0.6"/>
<line x1="836" y1="549" x2="836" y2="551" stroke="#777" stroke-width="0.6"/>
<line x1="842" y1="549" x2="842" y2="551" stroke="#777" stroke-width="0.6"/>
<line x1="848" y1="549" x2="848" y2="551" stroke="#777" stroke-width="0.6"/>
<line x1="854" y1="549" x2="854" y2="551" stroke="#777" stroke-width="0.6"/>
<line x1="860" y1="549" x2="860" y2="551" stroke="#777" stroke-width="0.6"/>
<line x1="866" y1="549" x2="866" y2="551" stroke="#777" stroke-width="0.6"/>
<line x1="872" y1="549" x2="872" y2="551" stroke="#777" stroke-width="0.6"/>
<line x1="878" y1="549" x2="878" y2="551" stroke="#777" stroke-width="0.6"/>
<line x1="884" y1="549" x2="884" y2="551" stroke="#777" stroke-width="0.6"/>
<path d="M10.0,538.0 L11.0,538.0 L12.0,538.0 L13.0,538.0 L14.0,538.0 L15.0,538.0 L16.0,537.9 L17.0,537.9 L18.0,537.9 L19.0,537.9 L20.0,537.9 L21.0,537.9 L22.0,537.9 L23.0,537.9 L24.0,537.9 L25.0,537.9 L26.0,537.9 L27.0,537.9 L28.0,537.8 L29.0,537.8 L30.0,537.8 L31.0,537.8 L32.0,537.8 L33.0,537.8 L34.0,537.8 L35.0,537.8 L36.0,537.8 L37.0,537.8 L38.0,537.8 L39.0,537.7 L40.0,537.7 L41.0,537.7 L42.0,537.7 L43.0,537.7 L44.0,537.7 L45.0,537.7 L46.0,537.7 L47.0,537.7 L48.0,537.7 L49.0,537.7 L50.0,537.6 L51.0,537.6 L52.0,537.6 L53.0,537.6 L54.0,537.6 L55.0,537.6 L56.0,537.6 L57.0,537.6 L58.0,537.6 L59.0,537.6 L60.0,537.6 L61.0,537.6 L62.0,537.5 L63.0,537.5 L64.0,537.5 L65.0,537.5 L66.0,537.5 L67.0,537.5 L68.0,537.5 L69.0,537.5 L70.0,537.5 L71.0,537.5 L72.0,537.5 L73.0,537.4 L74.0,537.4 L75.0,537.4 L76.0,537.4 L77.0,537.4 L78.0,537.4 L79.0,537.4 L80.0,537.4 L81.0,537.4 L82.0,537.4 L83.0,537.4 L84.0,537.4 L85.0,537.3 L86.0,537.3 L87.0,537.3 L88.0,537.3 L89.0,537.3 L90.0,537.2 L91.0,537.2 L92.0,537.1 L93.0,537.0 L94.0,536.9 L95.0,536.8 L96.0,536.8 L97.0,536.7 L98.0,536.6 L99.0,536.6 L100.0,536.5 L101.0,536.5 L102.0,536.4 L103.0,536.4 L104.0,536.3 L105.0,536.2 L106.0,536.2 L107.0,536.1 L108.0,536.0 L109.0,536.0 L110.0,535.9 L111.0,535.8 L112.0,535.7 L113.0,535.7 L114.0,535.6 L115.0,535.5 L116.0,535.4 L117.0,535.3 L118.0,535.2 L119.0,535.1 L120.0,534.9 L121.0,534.8 L122.0,534.7 L123.0,534.5 L124.0,534.4 L125.0,534.3 L126.0,534.1 L127.0,534.0 L128.0,533.9 L129.0,533.7 L130.0,533.6 L131.0,533.4 L132.0,533.2 L133.0,533.1 L134.0,532.9 L135.0,532.8 L136.0,532.6 L137.0,532.4 L138.0,532.3 L139.0,532.1 L140.0,531.9 L141.0,531.7 L142.0,531.4 L143.0,531.2 L144.0,531.0 L145.0,530.8 L146.0,530.6 L147.0,530.4 L148.0,530.1 L149.0,529.9 L150.0,529.7 L151.0,529.5 L152.0,529.3 L153.0,529.0 L154.0,528.8 L155.0,528.6 L156.0,528.4 L157.0,528.1 L158.0,527.9 L159.0,527.7 L160.0,527.5 L161.0,527.3 L162.0,527.0 L163.0,526.8 L164.0,526.6 L165.0,526.4 L166.0,526.2 L167.0,526.0 L168.0,525.8 L169.0,525.5 L170.0,525.3 L171.0,525.1 L172.0,524.8 L173.0,524.6 L174.0,524.3 L175.0,524.1 L176.0,523.8 L177.0,523.6 L178.0,523.3 L179.0,523.1 L180.0,522.8 L181.0,522.5 L182.0,522.1 L183.0,521.8 L184.0,521.5 L185.0,521.1 L186.0,520.7 L187.0,520.3 L188.0,520.0 L189.0,519.6 L190.0,519.2 L191.0,518.8 L192.0,518.5 L193.0,518.1 L194.0,517.7 L195.0,517.3 L196.0,516.9 L197.0,516.5 L198.0,516.1 L199.0,515.6 L200.0,515.2 L201.0,514.7 L202.0,514.2 L203.0,513.7 L204.0,513.1 L205.0,512.6 L206.0,512.0 L207.0,511.5 L208.0,510.9 L209.0,510.3 L210.0,509.7 L211.0,509.0 L212.0,508.2 L213.0,507.5 L214.0,506.7 L215.0,505.8 L216.0,505.0 L217.0,504.2 L218.0,503.4 L219.0,502.6 L220.0,501.7 L221.0,500.9 L222.0,500.0 L223.0,499.1 L224.0,498.2 L225.0,497.3 L226.0,496.4 L227.0,495.5 L228.0,494.6 L229.0,493.7 L230.0,492.8 L231.0,491.9 L232.0,491.1 L233.0,490.2 L234.0,489.3 L235.0,488.5 L236.0,487.6 L237.0,486.7 L238.0,485.8 L239.0,484.8 L240.0,483.7 L241.0,482.6 L242.0,481.4 L243.0,480.1 L244.0,478.7 L245.0,477.3 L246.0,475.9 L247.0,474.5 L248.0,473.1 L249.0,471.7 L250.0,470.4 L251.0,469.1 L252.0,467.8 L253.0,466.6 L254.0,465.4 L255.0,464.1 L256.0,462.9 L257.0,461.7 L258.0,460.4 L259.0,459.1 L260.0,457.8 L261.0,456.4 L262.0,455.0 L263.0,453.5 L264.0,452.0 L265.0,450.5 L266.0,449.0 L267.0,447.5 L268.0,446.0 L269.0,444.5 L270.0,443.0 L271.0,441.4 L272.0,439.9 L273.0,438.4 L274.0,436.8 L275.0,435.3 L276.0,433.7 L277.0,432.2 L278.0,430.6 L279.0,429.0 L280.0,427.4 L281.0,425.6 L282.0,423.9 L283.0,422.0 L284.0,420.1 L285.0,418.1 L286.0,416.2 L287.0,414.2 L288.0,412.1 L289.0,410.0 L290.0,407.9 L291.0,405.7 L292.0,403.4 L293.0,401.1 L294.0,398.8 L295.0,396.6 L296.0,394.3 L297.0,392.1 L298.0,389.9 L299.0,387.7 L300.0,385.6 L301.0,383.4 L302.0,381.3 L303.0,379.2 L304.0,377.0 L305.0,374.9 L306.0,372.8 L307.0,370.7 L308.0,368.5 L309.0,366.4 L310.0,364.4 L311.0,362.4 L312.0,360.6 L313.0,358.9 L314.0,357.3 L315.0,355.8 L316.0,354.4 L317.0,353.0 L318.0,351.6 L319.0,350.2 L320.0,348.8 L321.0,347.4 L322.0,346.0 L323.0,344.6 L324.0,343.1 L325.0,341.7 L326.0,340.2 L327.0,338.7 L328.0,337.2 L329.0,335.7 L330.0,334.2 L331.0,332.8 L332.0,331.3 L333.0,330.0 L334.0,328.6 L335.0,327.3 L336.0,326.1 L337.0,324.9 L338.0,323.8 L339.0,322.7 L340.0,321.7 L341.0,320.7 L342.0,319.8 L343.0,319.0 L344.0,318.2 L345.0,317.4 L346.0,316.7 L347.0,316.0 L348.0,315.4 L349.0,314.8 L350.0,314.2 L351.0,313.6 L352.0,313.0 L353.0,312.5 L354.0,312.1 L355.0,311.7 L356.0,311.3 L357.0,311.0 L358.0,310.7 L359.0,310.5 L360.0,310.3 L361.0,310.1 L362.0,309.9 L363.0,309.8 L364.0,309.7 L365.0,309.6 L366.0,309.5 L367.0,309.5 L368.0,309.5 L369.0,309.6 L370.0,309.9 L371.0,310.2 L372.0,310.7 L373.0,311.3 L374.0,312.0 L375.0,312.6 L376.0,313.3 L377.0,314.0 L378.0,314.7 L379.0,315.3 L380.0,316.0 L381.0,316.7 L382.0,317.4 L383.0,318.1 L384.0,318.8 L385.0,319.5 L386.0,320.2 L387.0,320.9 L388.0,321.6 L389.0,322.3 L390.0,323.1 L391.0,323.8 L392.0,324.6 L393.0,325.4 L394.0,326.2 L395.0,327.0 L396.0,327.8 L397.0,328.6 L398.0,329.5 L399.0,330.4 L400.0,331.3 L401.0,332.4 L402.0,333.4 L403.0,334.6 L404.0,335.7 L405.0,336.9 L406.0,338.1 L407.0,339.3 L408.0,340.5 L409.0,341.7 L410.0,342.9 L411.0,344.2 L412.0,345.5 L413.0,346.8 L414.0,348.1 L415.0,349.5 L416.0,350.9 L417.0,352.4 L418.0,354.0 L419.0,355.6 L420.0,357.3 L421.0,359.1 L422.0,361.0 L423.0,362.9 L424.0,364.8 L425.0,366.7 L426.0,368.7 L427.0,370.5 L428.0,372.4 L429.0,374.3 L430.0,376.1 L431.0,378.0 L432.0,379.8 L433.0,381.7 L434.0,383.5 L435.0,385.4 L436.0,387.2 L437.0,389.1 L438.0,390.9 L439.0,392.7 L440.0,394.4 L441.0,396.0 L442.0,397.4 L443.0,398.7 L444.0,399.9 L445.0,401.0 L446.0,402.0 L447.0,403.0 L448.0,404.0 L449.0,405.0 L450.0,406.1 L451.0,407.2 L452.0,408.4 L453.0,409.7 L454.0,411.1 L455.0,412.5 L456.0,414.1 L457.0,415.6 L458.0,417.2 L459.0,418.7 L460.0,420.2 L461.0,421.6 L462.0,423.0 L463.0,424.3 L464.0,425.6 L465.0,426.9 L466.0,428.1 L467.0,429.4 L468.0,430.6 L469.0,431.9 L470.0,433.1 L471.0,434.3 L472.0,435.5 L473.0,436.7 L474.0,437.9 L475.0,439.0 L476.0,440.1 L477.0,441.2 L478.0,442.3 L479.0,443.4 L480.0,444.5 L481.0,445.0 L482.0,445.6 L483.0,446.1" fill="none" stroke="#93c0f8" stroke-width="1.8"/>
<line x1="168.8" y1="148" x2="168.8" y2="512" stroke="#a0a0a0" stroke-width="1.3"/>
<polyline points="164,152.4 168.8,147.5 173.6,152.4" fill="none" stroke="#a0a0a0" stroke-width="1.3"/>
<line x1="296.3" y1="150" x2="296.3" y2="499" stroke="#a0a0a0" stroke-width="1.3"/>
<polyline points="291.6,494.8 296.3,499.5 301,494.8" fill="none" stroke="#8a9a8a" stroke-width="1.3"/>
<line x1="11.11" y1="537.4" x2="11.11" y2="539.0" stroke="#1a1a1a" stroke-width="1"/>
<rect x="9.56" y="537.4" width="3.1" height="1.6" fill="#000"/>
<line x1="13.66" y1="537.4" x2="13.66" y2="539.0" stroke="#1a1a1a" stroke-width="1"/>
<rect x="12.11" y="537.4" width="3.1" height="1.6" fill="#000"/>
<line x1="16.22" y1="537.4" x2="16.22" y2="539.0" stroke="#1a1a1a" stroke-width="1"/>
<rect x="14.67" y="537.4" width="3.1" height="1.6" fill="#000"/>
<line x1="18.77" y1="537.4" x2="18.77" y2="539.0" stroke="#1a1a1a" stroke-width="1"/>
<rect x="17.22" y="537.4" width="3.1" height="1.6" fill="#000"/>
<line x1="21.32" y1="537.4" x2="21.32" y2="539.0" stroke="#1a1a1a" stroke-width="1"/>
<rect x="19.77" y="537.4" width="3.1" height="1.6" fill="#000"/>
<line x1="23.87" y1="537.4" x2="23.87" y2="539.0" stroke="#1a1a1a" stroke-width="1"/>
<rect x="22.32" y="537.4" width="3.1" height="1.6" fill="#000"/>
<line x1="26.42" y1="537.4" x2="26.42" y2="539.0" stroke="#1a1a1a" stroke-width="1"/>
<rect x="24.87" y="537.4" width="3.1" height="1.6" fill="#000"/>
<line x1="28.98" y1="537.4" x2="28.98" y2="539.0" stroke="#1a1a1a" stroke-width="1"/>
<rect x="27.43" y="537.4" width="3.1" height="1.6" fill="#000"/>
<line x1="31.53" y1="537.4" x2="31.53" y2="539.0" stroke="#1a1a1a" stroke-width="1"/>
<rect x="29.98" y="537.4" width="3.1" height="1.6" fill="#000"/>
<line x1="34.08" y1="537.4" x2="34.08" y2="539.0" stroke="#1a1a1a" stroke-width="1"/>
<rect x="32.53" y="537.4" width="3.1" height="1.6" fill="#000"/>
<line x1="36.63" y1="537.4" x2="36.63" y2="539.0" stroke="#1a1a1a" stroke-width="1"/>
<rect x="35.08" y="537.4" width="3.1" height="1.6" fill="#000"/>
<line x1="39.18" y1="536.9" x2="39.18" y2="538.5" stroke="#1a1a1a" stroke-width="1"/>
<rect x="37.63" y="536.9" width="3.1" height="1.6" fill="#000"/>
<line x1="41.74" y1="536.4" x2="41.74" y2="538.0" stroke="#1a1a1a" stroke-width="1"/>
<rect x="40.19" y="536.4" width="3.1" height="1.6" fill="#000"/>
<line x1="44.29" y1="535.8" x2="44.29" y2="537.4" stroke="#1a1a1a" stroke-width="1"/>
<rect x="42.74" y="535.8" width="3.1" height="1.6" fill="#000"/>
<line x1="46.84" y1="535.1" x2="46.84" y2="536.7" stroke="#1a1a1a" stroke-width="1"/>
<rect x="45.29" y="535.1" width="3.1" height="1.6" fill="#000"/>
<line x1="49.39" y1="536.1" x2="49.39" y2="537.7" stroke="#1a1a1a" stroke-width="1"/>
<rect x="47.84" y="536.1" width="3.1" height="1.6" fill="#000"/>
<line x1="51.94" y1="536.5" x2="51.94" y2="538.1" stroke="#1a1a1a" stroke-width="1"/>
<rect x="50.39" y="536.5" width="3.1" height="1.6" fill="#000"/>
<line x1="54.50" y1="536.4" x2="54.50" y2="538.0" stroke="#1a1a1a" stroke-width="1"/>
<rect x="52.95" y="536.4" width="3.1" height="1.6" fill="#000"/>
<line x1="57.05" y1="536.4" x2="57.05" y2="538.0" stroke="#1a1a1a" stroke-width="1"/>
<rect x="55.50" y="536.4" width="3.1" height="1.6" fill="#000"/>
<line x1="59.60" y1="536.4" x2="59.60" y2="538.0" stroke="#1a1a1a" stroke-width="1"/>
<rect x="58.05" y="536.4" width="3.1" height="1.6" fill="#000"/>
<line x1="62.15" y1="536.4" x2="62.15" y2="538.0" stroke="#1a1a1a" stroke-width="1"/>
<rect x="60.60" y="536.4" width="3.1" height="1.6" fill="#000"/>
<line x1="64.70" y1="536.4" x2="64.70" y2="538.0" stroke="#1a1a1a" stroke-width="1"/>
<rect x="63.15" y="536.4" width="3.1" height="1.6" fill="#000"/>
<line x1="67.26" y1="536.4" x2="67.26" y2="538.0" stroke="#1a1a1a" stroke-width="1"/>
<rect x="65.71" y="536.4" width="3.1" height="1.6" fill="#000"/>
<line x1="69.81" y1="535.8" x2="69.81" y2="537.4" stroke="#1a1a1a" stroke-width="1"/>
<rect x="68.26" y="535.8" width="3.1" height="1.6" fill="#000"/>
<line x1="72.36" y1="535.8" x2="72.36" y2="537.4" stroke="#1a1a1a" stroke-width="1"/>
<rect x="70.81" y="535.8" width="3.1" height="1.6" fill="#000"/>
<line x1="74.91" y1="535.8" x2="74.91" y2="537.4" stroke="#1a1a1a" stroke-width="1"/>
<rect x="73.36" y="535.8" width="3.1" height="1.6" fill="#000"/>
<line x1="77.46" y1="535.8" x2="77.46" y2="537.4" stroke="#1a1a1a" stroke-width="1"/>
<rect x="75.91" y="535.8" width="3.1" height="1.6" fill="#000"/>
<line x1="80.02" y1="535.8" x2="80.02" y2="537.4" stroke="#1a1a1a" stroke-width="1"/>
<rect x="78.47" y="535.8" width="3.1" height="1.6" fill="#000"/>
<line x1="82.57" y1="535.8" x2="82.57" y2="537.4" stroke="#1a1a1a" stroke-width="1"/>
<rect x="81.02" y="535.8" width="3.1" height="1.6" fill="#000"/>
<line x1="85.12" y1="535.7" x2="85.12" y2="537.3" stroke="#1a1a1a" stroke-width="1"/>
<rect x="83.57" y="535.7" width="3.1" height="1.6" fill="#000"/>
<line x1="87.67" y1="535.7" x2="87.67" y2="537.3" stroke="#1a1a1a" stroke-width="1"/>
<rect x="86.12" y="535.7" width="3.1" height="1.6" fill="#000"/>
<line x1="90.22" y1="535.5" x2="90.22" y2="537.1" stroke="#1a1a1a" stroke-width="1"/>
<rect x="88.67" y="535.5" width="3.1" height="1.6" fill="#000"/>
<line x1="92.78" y1="535.3" x2="92.78" y2="536.9" stroke="#1a1a1a" stroke-width="1"/>
<rect x="91.23" y="535.3" width="3.1" height="1.6" fill="#000"/>
<line x1="95.33" y1="534.2" x2="95.33" y2="537.3" stroke="#1a1a1a" stroke-width="1"/>
<rect x="93.78" y="535.1" width="3.1" height="1.2" fill="#000"/>
<line x1="97.88" y1="533.3" x2="97.88" y2="537.1" stroke="#1a1a1a" stroke-width="1"/>
<rect x="96.33" y="534.2" width="3.1" height="1.5" fill="#000"/>
<line x1="100.43" y1="532.2" x2="100.43" y2="536.0" stroke="#1a1a1a" stroke-width="1"/>
<rect x="98.88" y="533.1" width="3.1" height="1.9" fill="#000"/>
<line x1="102.98" y1="531.0" x2="102.98" y2="534.8" stroke="#1a1a1a" stroke-width="1"/>
<rect x="101.43" y="532.2" width="3.1" height="1.9" fill="#000"/>
<line x1="105.54" y1="530.2" x2="105.54" y2="534.9" stroke="#1a1a1a" stroke-width="1"/>
<rect x="103.99" y="531.1" width="3.1" height="2.0" fill="#000"/>
<line x1="108.09" y1="528.4" x2="108.09" y2="533.4" stroke="#1a1a1a" stroke-width="1"/>
<rect x="106.54" y="530.3" width="3.1" height="1.8" fill="#000"/>
<line x1="110.64" y1="528.2" x2="110.64" y2="532.1" stroke="#1a1a1a" stroke-width="1"/>
<rect x="109.09" y="529.2" width="3.1" height="1.9" fill="#000"/>
<line x1="113.19" y1="527.3" x2="113.19" y2="531.1" stroke="#1a1a1a" stroke-width="1"/>
<rect x="111.64" y="528.4" width="3.1" height="1.8" fill="#000"/>
<line x1="115.74" y1="526.2" x2="115.74" y2="531.3" stroke="#1a1a1a" stroke-width="1"/>
<rect x="114.19" y="527.1" width="3.1" height="2.2" fill="#000"/>
<line x1="118.30" y1="523.2" x2="118.30" y2="529.5" stroke="#1a1a1a" stroke-width="1"/>
<rect x="116.75" y="524.3" width="3.1" height="3.9" fill="#000"/>
<line x1="120.85" y1="516.2" x2="120.85" y2="527.4" stroke="#1a1a1a" stroke-width="1"/>
<rect x="119.30" y="517.7" width="3.1" height="8.6" fill="#000"/>
<line x1="123.40" y1="501.0" x2="123.40" y2="523.6" stroke="#1a1a1a" stroke-width="1"/>
<rect x="121.85" y="511.0" width="3.1" height="11.0" fill="#000"/>
<line x1="125.95" y1="501.5" x2="125.95" y2="517.8" stroke="#1a1a1a" stroke-width="1"/>
<rect x="124.40" y="507.7" width="3.1" height="8.8" fill="#000"/>
<line x1="128.50" y1="502.5" x2="128.50" y2="513.4" stroke="#1a1a1a" stroke-width="1"/>
<rect x="126.95" y="507.4" width="3.1" height="4.7" fill="#555"/>
<line x1="131.06" y1="508.3" x2="131.06" y2="511.8" stroke="#1a1a1a" stroke-width="1"/>
<rect x="129.51" y="509.1" width="3.1" height="1.2" fill="#000"/>
<line x1="133.61" y1="508.6" x2="133.61" y2="514.1" stroke="#1a1a1a" stroke-width="1"/>
<rect x="132.06" y="509.7" width="3.1" height="1.8" fill="#000"/>
<line x1="136.16" y1="508.0" x2="136.16" y2="513.6" stroke="#1a1a1a" stroke-width="1"/>
<rect x="134.61" y="510.6" width="3.1" height="2.0" fill="#000"/>
<line x1="138.71" y1="507.7" x2="138.71" y2="512.6" stroke="#1a1a1a" stroke-width="1"/>
<rect x="137.16" y="510.2" width="3.1" height="1.4" fill="#000"/>
<line x1="141.26" y1="504.3" x2="141.26" y2="512.0" stroke="#1a1a1a" stroke-width="1"/>
<rect x="139.71" y="508.3" width="3.1" height="2.6" fill="#000"/>
<line x1="143.82" y1="505.5" x2="143.82" y2="513.3" stroke="#1a1a1a" stroke-width="1"/>
<rect x="142.27" y="509.5" width="3.1" height="1.2" fill="#000"/>
<line x1="146.37" y1="507.2" x2="146.37" y2="512.9" stroke="#1a1a1a" stroke-width="1"/>
<rect x="144.82" y="510.1" width="3.1" height="1.7" fill="#000"/>
<line x1="148.92" y1="505.6" x2="148.92" y2="513.3" stroke="#1a1a1a" stroke-width="1"/>
<rect x="147.37" y="510.4" width="3.1" height="1.2" fill="#000"/>
<line x1="151.47" y1="509.6" x2="151.47" y2="514.7" stroke="#1a1a1a" stroke-width="1"/>
<rect x="149.92" y="510.2" width="3.1" height="1.2" fill="#000"/>
<line x1="154.02" y1="507.2" x2="154.02" y2="512.4" stroke="#1a1a1a" stroke-width="1"/>
<rect x="152.47" y="509.9" width="3.1" height="1.2" fill="#000"/>
<line x1="156.58" y1="508.4" x2="156.58" y2="512.9" stroke="#1a1a1a" stroke-width="1"/>
<rect x="155.03" y="509.8" width="3.1" height="1.2" fill="#000"/>
<line x1="159.13" y1="508.1" x2="159.13" y2="515.7" stroke="#1a1a1a" stroke-width="1"/>
<rect x="157.58" y="510.4" width="3.1" height="2.5" fill="#000"/>
<line x1="161.68" y1="509.8" x2="161.68" y2="515.6" stroke="#1a1a1a" stroke-width="1"/>
<rect x="160.13" y="511.7" width="3.1" height="1.9" fill="#000"/>
<line x1="164.23" y1="511.0" x2="164.23" y2="515.3" stroke="#1a1a1a" stroke-width="1"/>
<rect x="162.68" y="512.2" width="3.1" height="1.2" fill="#000"/>
<line x1="166.78" y1="510.2" x2="166.78" y2="514.5" stroke="#1a1a1a" stroke-width="1"/>
<rect x="165.23" y="512.1" width="3.1" height="1.2" fill="#000"/>
<line x1="169.34" y1="511.8" x2="169.34" y2="513.9" stroke="#1a1a1a" stroke-width="1"/>
<rect x="167.79" y="512.2" width="3.1" height="1.2" fill="#000"/>
<line x1="171.89" y1="511.1" x2="171.89" y2="515.3" stroke="#1a1a1a" stroke-width="1"/>
<rect x="170.34" y="511.9" width="3.1" height="1.2" fill="#000"/>
<line x1="174.44" y1="493.0" x2="174.44" y2="515.5" stroke="#1a1a1a" stroke-width="1"/>
<rect x="172.89" y="505.6" width="3.1" height="6.9" fill="#555"/>
<line x1="176.99" y1="496.0" x2="176.99" y2="510.3" stroke="#1a1a1a" stroke-width="1"/>
<rect x="175.44" y="500.4" width="3.1" height="8.6" fill="#000"/>
<line x1="179.54" y1="500.4" x2="179.54" y2="506.2" stroke="#1a1a1a" stroke-width="1"/>
<rect x="177.99" y="501.3" width="3.1" height="3.4" fill="#000"/>
<line x1="182.10" y1="497.0" x2="182.10" y2="506.4" stroke="#1a1a1a" stroke-width="1"/>
<rect x="180.55" y="501.9" width="3.1" height="1.2" fill="#000"/>
<line x1="184.65" y1="500.3" x2="184.65" y2="504.1" stroke="#1a1a1a" stroke-width="1"/>
<rect x="183.10" y="501.4" width="3.1" height="1.2" fill="#000"/>
<line x1="187.20" y1="499.0" x2="187.20" y2="503.8" stroke="#1a1a1a" stroke-width="1"/>
<rect x="185.65" y="500.2" width="3.1" height="1.8" fill="#000"/>
<line x1="189.75" y1="495.0" x2="189.75" y2="505.6" stroke="#1a1a1a" stroke-width="1"/>
<rect x="188.20" y="498.8" width="3.1" height="2.3" fill="#000"/>
<line x1="192.30" y1="496.0" x2="192.30" y2="503.2" stroke="#1a1a1a" stroke-width="1"/>
<rect x="190.75" y="498.2" width="3.1" height="1.8" fill="#000"/>
<line x1="194.86" y1="494.4" x2="194.86" y2="501.3" stroke="#1a1a1a" stroke-width="1"/>
<rect x="193.31" y="497.2" width="3.1" height="1.9" fill="#000"/>
<line x1="197.41" y1="493.2" x2="197.41" y2="500.3" stroke="#1a1a1a" stroke-width="1"/>
<rect x="195.86" y="495.5" width="3.1" height="2.6" fill="#000"/>
<line x1="199.96" y1="493.0" x2="199.96" y2="499.2" stroke="#1a1a1a" stroke-width="1"/>
<rect x="198.41" y="494.7" width="3.1" height="2.0" fill="#000"/>
<line x1="202.51" y1="485.5" x2="202.51" y2="500.5" stroke="#1a1a1a" stroke-width="1"/>
<rect x="200.96" y="488.7" width="3.1" height="7.1" fill="#000"/>
<line x1="205.06" y1="468.7" x2="205.06" y2="493.3" stroke="#1a1a1a" stroke-width="1"/>
<rect x="203.51" y="476.4" width="3.1" height="15.9" fill="#000"/>
<line x1="207.62" y1="460.1" x2="207.62" y2="485.9" stroke="#1a1a1a" stroke-width="1"/>
<rect x="206.07" y="463.6" width="3.1" height="20.7" fill="#000"/>
<line x1="210.17" y1="440.1" x2="210.17" y2="478.3" stroke="#1a1a1a" stroke-width="1"/>
<rect x="208.62" y="445.2" width="3.1" height="28.7" fill="#000"/>
<line x1="212.72" y1="394.0" x2="212.72" y2="470.0" stroke="#1a1a1a" stroke-width="1"/>
<rect x="211.17" y="418.2" width="3.1" height="41.3" fill="#000"/>
<line x1="215.27" y1="429.8" x2="215.27" y2="440.8" stroke="#1a1a1a" stroke-width="1"/>
<rect x="213.72" y="431.2" width="3.1" height="7.7" fill="#555"/>
<line x1="217.82" y1="429.3" x2="217.82" y2="436.9" stroke="#1a1a1a" stroke-width="1"/>
<rect x="216.27" y="431.1" width="3.1" height="4.0" fill="#000"/>
<line x1="220.38" y1="414.7" x2="220.38" y2="437.3" stroke="#1a1a1a" stroke-width="1"/>
<rect x="218.83" y="422.2" width="3.1" height="10.9" fill="#000"/>
<line x1="222.93" y1="411.6" x2="222.93" y2="428.8" stroke="#1a1a1a" stroke-width="1"/>
<rect x="221.38" y="415.5" width="3.1" height="12.1" fill="#000"/>
<line x1="225.48" y1="410.8" x2="225.48" y2="424.4" stroke="#1a1a1a" stroke-width="1"/>
<rect x="223.93" y="412.0" width="3.1" height="9.5" fill="#000"/>
<line x1="228.03" y1="387.0" x2="228.03" y2="419.0" stroke="#1a1a1a" stroke-width="1"/>
<rect x="226.48" y="407.0" width="3.1" height="9.8" fill="#000"/>
<line x1="230.58" y1="397.9" x2="230.58" y2="418.8" stroke="#1a1a1a" stroke-width="1"/>
<rect x="229.03" y="403.6" width="3.1" height="8.3" fill="#000"/>
<line x1="233.14" y1="401.7" x2="233.14" y2="423.1" stroke="#1a1a1a" stroke-width="1"/>
<rect x="231.59" y="407.5" width="3.1" height="1.2" fill="#000"/>
<line x1="235.69" y1="403.7" x2="235.69" y2="416.2" stroke="#1a1a1a" stroke-width="1"/>
<rect x="234.14" y="408.1" width="3.1" height="3.8" fill="#000"/>
<line x1="238.24" y1="402.7" x2="238.24" y2="435.0" stroke="#1a1a1a" stroke-width="1"/>
<rect x="236.69" y="409.9" width="3.1" height="3.4" fill="#000"/>
<line x1="240.79" y1="396.9" x2="240.79" y2="413.2" stroke="#1a1a1a" stroke-width="1"/>
<rect x="239.24" y="401.6" width="3.1" height="10.1" fill="#000"/>
<line x1="243.34" y1="381.5" x2="243.34" y2="415.5" stroke="#1a1a1a" stroke-width="1"/>
<rect x="241.79" y="385.1" width="3.1" height="21.5" fill="#000"/>
<line x1="245.90" y1="358.9" x2="245.90" y2="407.3" stroke="#1a1a1a" stroke-width="1"/>
<rect x="244.35" y="368.2" width="3.1" height="27.6" fill="#000"/>
<line x1="248.45" y1="348.6" x2="248.45" y2="384.9" stroke="#1a1a1a" stroke-width="1"/>
<rect x="246.90" y="352.4" width="3.1" height="29.6" fill="#000"/>
<line x1="251.00" y1="340.1" x2="251.00" y2="374.7" stroke="#1a1a1a" stroke-width="1"/>
<rect x="249.45" y="346.7" width="3.1" height="20.5" fill="#000"/>
<line x1="253.55" y1="286.0" x2="253.55" y2="372.3" stroke="#1a1a1a" stroke-width="1"/>
<rect x="252.00" y="334.8" width="3.1" height="22.2" fill="#000"/>
<line x1="256.10" y1="320.0" x2="256.10" y2="358.9" stroke="#1a1a1a" stroke-width="1"/>
<rect x="254.55" y="329.4" width="3.1" height="16.5" fill="#000"/>
<line x1="258.66" y1="321.1" x2="258.66" y2="342.0" stroke="#1a1a1a" stroke-width="1"/>
<rect x="257.11" y="331.6" width="3.1" height="6.0" fill="#000"/>
<line x1="261.21" y1="328.9" x2="261.21" y2="344.1" stroke="#1a1a1a" stroke-width="1"/>
<rect x="259.66" y="334.6" width="3.1" height="5.8" fill="#000"/>
<line x1="263.76" y1="328.0" x2="263.76" y2="355.7" stroke="#1a1a1a" stroke-width="1"/>
<rect x="262.21" y="337.5" width="3.1" height="6.6" fill="#000"/>
<line x1="266.31" y1="320.3" x2="266.31" y2="366.4" stroke="#1a1a1a" stroke-width="1"/>
<rect x="264.76" y="339.8" width="3.1" height="1.2" fill="#000"/>
<line x1="268.86" y1="324.6" x2="268.86" y2="350.9" stroke="#1a1a1a" stroke-width="1"/>
<rect x="267.31" y="340.4" width="3.1" height="6.1" fill="#000"/>
<line x1="271.42" y1="320.0" x2="271.42" y2="349.4" stroke="#1a1a1a" stroke-width="1"/>
<rect x="269.87" y="338.7" width="3.1" height="4.8" fill="#000"/>
<line x1="273.97" y1="290.0" x2="273.97" y2="347.4" stroke="#1a1a1a" stroke-width="1"/>
<rect x="272.42" y="310.7" width="3.1" height="30.4" fill="#000"/>
<line x1="276.52" y1="296.5" x2="276.52" y2="329.2" stroke="#1a1a1a" stroke-width="1"/>
<rect x="274.97" y="302.9" width="3.1" height="22.9" fill="#000"/>
<line x1="279.07" y1="303.8" x2="279.07" y2="318.8" stroke="#1a1a1a" stroke-width="1"/>
<rect x="277.52" y="306.0" width="3.1" height="8.4" fill="#555"/>
<line x1="281.62" y1="290.2" x2="281.62" y2="320.9" stroke="#1a1a1a" stroke-width="1"/>
<rect x="280.07" y="297.4" width="3.1" height="12.9" fill="#000"/>
<line x1="284.18" y1="258.0" x2="284.18" y2="308.8" stroke="#1a1a1a" stroke-width="1"/>
<rect x="282.63" y="280.1" width="3.1" height="23.7" fill="#000"/>
<line x1="286.73" y1="268.3" x2="286.73" y2="311.9" stroke="#1a1a1a" stroke-width="1"/>
<rect x="285.18" y="274.3" width="3.1" height="17.6" fill="#000"/>
<line x1="289.28" y1="269.2" x2="289.28" y2="293.8" stroke="#1a1a1a" stroke-width="1"/>
<rect x="287.73" y="272.0" width="3.1" height="11.1" fill="#000"/>
<line x1="291.83" y1="237.6" x2="291.83" y2="292.5" stroke="#1a1a1a" stroke-width="1"/>
<rect x="290.28" y="255.0" width="3.1" height="22.6" fill="#000"/>
<line x1="294.38" y1="202.0" x2="294.38" y2="273.0" stroke="#1a1a1a" stroke-width="1"/>
<rect x="292.83" y="215.0" width="3.1" height="51.3" fill="#000"/>
<line x1="296.94" y1="148.0" x2="296.94" y2="244.9" stroke="#1a1a1a" stroke-width="1"/>
<rect x="295.39" y="184.0" width="3.1" height="56.6" fill="#000"/>
<line x1="299.49" y1="175.5" x2="299.49" y2="219.4" stroke="#1a1a1a" stroke-width="1"/>
<rect x="297.94" y="195.0" width="3.1" height="17.3" fill="#000"/>
<line x1="302.04" y1="180.4" x2="302.04" y2="234.0" stroke="#1a1a1a" stroke-width="1"/>
<rect x="300.49" y="203.7" width="3.1" height="18.3" fill="#000"/>
<line x1="304.59" y1="192.2" x2="304.59" y2="224.3" stroke="#1a1a1a" stroke-width="1"/>
<rect x="303.04" y="207.0" width="3.1" height="5.8" fill="#000"/>
<line x1="307.14" y1="194.3" x2="307.14" y2="238.0" stroke="#1a1a1a" stroke-width="1"/>
<rect x="305.59" y="209.9" width="3.1" height="22.1" fill="#000"/>
<line x1="309.70" y1="208.1" x2="309.70" y2="261.9" stroke="#1a1a1a" stroke-width="1"/>
<rect x="308.15" y="221.0" width="3.1" height="24.0" fill="#000"/>
<line x1="312.25" y1="209.4" x2="312.25" y2="262.3" stroke="#1a1a1a" stroke-width="1"/>
<rect x="310.70" y="233.0" width="3.1" height="22.0" fill="#000"/>
<line x1="314.80" y1="220.1" x2="314.80" y2="283.5" stroke="#1a1a1a" stroke-width="1"/>
<rect x="313.25" y="244.0" width="3.1" height="24.0" fill="#000"/>
<line x1="317.35" y1="252.4" x2="317.35" y2="291.7" stroke="#1a1a1a" stroke-width="1"/>
<rect x="315.80" y="256.0" width="3.1" height="28.0" fill="#000"/>
<line x1="319.90" y1="266.0" x2="319.90" y2="311.4" stroke="#1a1a1a" stroke-width="1"/>
<rect x="318.35" y="270.0" width="3.1" height="28.0" fill="#000"/>
<line x1="322.46" y1="280.6" x2="322.46" y2="322.6" stroke="#1a1a1a" stroke-width="1"/>
<rect x="320.91" y="284.0" width="3.1" height="35.9" fill="#000"/>
<line x1="325.01" y1="299.9" x2="325.01" y2="366.0" stroke="#1a1a1a" stroke-width="1"/>
<rect x="323.46" y="302.0" width="3.1" height="41.0" fill="#000"/>
<line x1="327.56" y1="296.7" x2="327.56" y2="339.1" stroke="#1a1a1a" stroke-width="1"/>
<rect x="326.01" y="300.0" width="3.1" height="22.5" fill="#000"/>
<line x1="330.11" y1="234.0" x2="330.11" y2="325.3" stroke="#1a1a1a" stroke-width="1"/>
<rect x="328.56" y="266.0" width="3.1" height="45.2" fill="#000"/>
<line x1="332.66" y1="241.0" x2="332.66" y2="291.0" stroke="#1a1a1a" stroke-width="1"/>
<rect x="331.11" y="283.0" width="3.1" height="5.6" fill="#555"/>
<line x1="335.22" y1="280.2" x2="335.22" y2="298.2" stroke="#1a1a1a" stroke-width="1"/>
<rect x="333.67" y="284.8" width="3.1" height="1.2" fill="#000"/>
<line x1="337.77" y1="281.9" x2="337.77" y2="324.4" stroke="#1a1a1a" stroke-width="1"/>
<rect x="336.22" y="285.4" width="3.1" height="14.6" fill="#000"/>
<line x1="340.32" y1="285.9" x2="340.32" y2="322.2" stroke="#1a1a1a" stroke-width="1"/>
<rect x="338.77" y="292.7" width="3.1" height="27.3" fill="#000"/>
<line x1="342.87" y1="295.2" x2="342.87" y2="344.6" stroke="#1a1a1a" stroke-width="1"/>
<rect x="341.32" y="306.3" width="3.1" height="30.6" fill="#000"/>
<line x1="345.42" y1="313.8" x2="345.42" y2="348.0" stroke="#1a1a1a" stroke-width="1"/>
<rect x="343.87" y="321.7" width="3.1" height="12.3" fill="#000"/>
<line x1="347.98" y1="309.1" x2="347.98" y2="346.7" stroke="#1a1a1a" stroke-width="1"/>
<rect x="346.43" y="327.8" width="3.1" height="10.2" fill="#000"/>
<line x1="350.53" y1="331.0" x2="350.53" y2="352.0" stroke="#1a1a1a" stroke-width="1"/>
<rect x="348.98" y="332.9" width="3.1" height="8.1" fill="#000"/>
<line x1="353.08" y1="324.8" x2="353.08" y2="349.9" stroke="#1a1a1a" stroke-width="1"/>
<rect x="351.53" y="337.0" width="3.1" height="8.0" fill="#000"/>
<line x1="355.63" y1="338.2" x2="355.63" y2="353.1" stroke="#1a1a1a" stroke-width="1"/>
<rect x="354.08" y="341.0" width="3.1" height="11.0" fill="#000"/>
<line x1="358.18" y1="344.0" x2="358.18" y2="360.8" stroke="#1a1a1a" stroke-width="1"/>
<rect x="356.63" y="346.5" width="3.1" height="11.5" fill="#000"/>
<line x1="360.74" y1="346.1" x2="360.74" y2="367.5" stroke="#1a1a1a" stroke-width="1"/>
<rect x="359.19" y="352.3" width="3.1" height="11.7" fill="#000"/>
<line x1="363.29" y1="351.4" x2="363.29" y2="387.0" stroke="#1a1a1a" stroke-width="1"/>
<rect x="361.74" y="358.1" width="3.1" height="21.9" fill="#000"/>
<line x1="365.84" y1="359.2" x2="365.84" y2="393.4" stroke="#1a1a1a" stroke-width="1"/>
<rect x="364.29" y="369.1" width="3.1" height="16.6" fill="#000"/>
<line x1="368.39" y1="370.8" x2="368.39" y2="388.8" stroke="#1a1a1a" stroke-width="1"/>
<rect x="366.84" y="377.4" width="3.1" height="10.7" fill="#000"/>
<line x1="370.94" y1="340.0" x2="370.94" y2="402.6" stroke="#1a1a1a" stroke-width="1"/>
<rect x="369.39" y="382.7" width="3.1" height="17.8" fill="#000"/>
<line x1="373.50" y1="386.6" x2="373.50" y2="417.5" stroke="#1a1a1a" stroke-width="1"/>
<rect x="371.95" y="391.6" width="3.1" height="21.8" fill="#000"/>
<line x1="376.05" y1="399.5" x2="376.05" y2="428.4" stroke="#1a1a1a" stroke-width="1"/>
<rect x="374.50" y="402.5" width="3.1" height="17.8" fill="#000"/>
<line x1="378.60" y1="405.7" x2="378.60" y2="459.0" stroke="#1a1a1a" stroke-width="1"/>
<rect x="377.05" y="411.4" width="3.1" height="12.5" fill="#000"/>
<line x1="381.15" y1="414.6" x2="381.15" y2="432.7" stroke="#1a1a1a" stroke-width="1"/>
<rect x="379.60" y="417.7" width="3.1" height="11.4" fill="#000"/>
<line x1="383.70" y1="414.1" x2="383.70" y2="441.6" stroke="#1a1a1a" stroke-width="1"/>
<rect x="382.15" y="423.4" width="3.1" height="14.1" fill="#000"/>
<line x1="386.26" y1="425.8" x2="386.26" y2="455.4" stroke="#1a1a1a" stroke-width="1"/>
<rect x="384.71" y="430.4" width="3.1" height="15.3" fill="#000"/>
<line x1="388.81" y1="422.6" x2="388.81" y2="450.4" stroke="#1a1a1a" stroke-width="1"/>
<rect x="387.26" y="438.1" width="3.1" height="9.8" fill="#000"/>
<line x1="391.36" y1="441.8" x2="391.36" y2="455.7" stroke="#1a1a1a" stroke-width="1"/>
<rect x="389.81" y="443.0" width="3.1" height="5.2" fill="#000"/>
<line x1="393.91" y1="442.9" x2="393.91" y2="451.0" stroke="#1a1a1a" stroke-width="1"/>
<rect x="392.36" y="445.6" width="3.1" height="2.5" fill="#000"/>
<line x1="396.46" y1="443.5" x2="396.46" y2="449.8" stroke="#1a1a1a" stroke-width="1"/>
<rect x="394.91" y="444.8" width="3.1" height="2.0" fill="#000"/>
<line x1="399.02" y1="436.0" x2="399.02" y2="449.6" stroke="#1a1a1a" stroke-width="1"/>
<rect x="397.47" y="440.7" width="3.1" height="5.2" fill="#555"/>
<line x1="401.57" y1="433.5" x2="401.57" y2="453.3" stroke="#1a1a1a" stroke-width="1"/>
<rect x="400.02" y="438.5" width="3.1" height="4.8" fill="#000"/>
<line x1="404.12" y1="436.4" x2="404.12" y2="449.5" stroke="#1a1a1a" stroke-width="1"/>
<rect x="402.57" y="437.7" width="3.1" height="3.2" fill="#000"/>
<line x1="406.67" y1="430.0" x2="406.67" y2="440.2" stroke="#1a1a1a" stroke-width="1"/>
<rect x="405.12" y="437.9" width="3.1" height="1.4" fill="#000"/>
<line x1="409.22" y1="436.2" x2="409.22" y2="443.6" stroke="#1a1a1a" stroke-width="1"/>
<rect x="407.67" y="438.6" width="3.1" height="3.2" fill="#555"/>
<line x1="411.78" y1="434.5" x2="411.78" y2="448.5" stroke="#1a1a1a" stroke-width="1"/>
<rect x="410.23" y="440.2" width="3.1" height="5.9" fill="#000"/>
<line x1="414.33" y1="441.4" x2="414.33" y2="456.1" stroke="#1a1a1a" stroke-width="1"/>
<rect x="412.78" y="443.1" width="3.1" height="11.1" fill="#000"/>
<line x1="416.88" y1="442.1" x2="416.88" y2="472.4" stroke="#1a1a1a" stroke-width="1"/>
<rect x="415.33" y="448.7" width="3.1" height="13.8" fill="#000"/>
<line x1="419.43" y1="454.1" x2="419.43" y2="468.9" stroke="#1a1a1a" stroke-width="1"/>
<rect x="417.88" y="455.6" width="3.1" height="4.2" fill="#000"/>
<line x1="421.98" y1="448.5" x2="421.98" y2="460.1" stroke="#1a1a1a" stroke-width="1"/>
<rect x="420.43" y="455.7" width="3.1" height="2.0" fill="#000"/>
<line x1="424.54" y1="445.8" x2="424.54" y2="461.8" stroke="#1a1a1a" stroke-width="1"/>
<rect x="422.99" y="450.6" width="3.1" height="6.1" fill="#000"/>
<line x1="427.09" y1="448.4" x2="427.09" y2="454.8" stroke="#1a1a1a" stroke-width="1"/>
<rect x="425.54" y="449.7" width="3.1" height="3.9" fill="#000"/>
<line x1="429.64" y1="443.2" x2="429.64" y2="454.3" stroke="#1a1a1a" stroke-width="1"/>
<rect x="428.09" y="450.9" width="3.1" height="1.2" fill="#000"/>
<line x1="432.19" y1="450.4" x2="432.19" y2="459.6" stroke="#1a1a1a" stroke-width="1"/>
<rect x="430.64" y="451.5" width="3.1" height="3.4" fill="#000"/>
<line x1="434.74" y1="450.3" x2="434.74" y2="458.3" stroke="#1a1a1a" stroke-width="1"/>
<rect x="433.19" y="453.2" width="3.1" height="3.7" fill="#000"/>
<line x1="437.30" y1="449.0" x2="437.30" y2="463.0" stroke="#1a1a1a" stroke-width="1"/>
<rect x="435.75" y="455.0" width="3.1" height="3.0" fill="#000"/>
<line x1="439.85" y1="448.6" x2="439.85" y2="460.5" stroke="#1a1a1a" stroke-width="1"/>
<rect x="438.30" y="456.2" width="3.1" height="1.2" fill="#000"/>
<line x1="442.40" y1="450.9" x2="442.40" y2="460.2" stroke="#1a1a1a" stroke-width="1"/>
<rect x="440.85" y="455.3" width="3.1" height="1.5" fill="#000"/>
<line x1="444.95" y1="454.5" x2="444.95" y2="457.3" stroke="#1a1a1a" stroke-width="1"/>
<rect x="443.40" y="455.5" width="3.1" height="1.2" fill="#000"/>
<line x1="447.50" y1="455.0" x2="447.50" y2="464.9" stroke="#1a1a1a" stroke-width="1"/>
<rect x="445.95" y="456.1" width="3.1" height="1.4" fill="#000"/>
<line x1="450.06" y1="452.8" x2="450.06" y2="472.6" stroke="#1a1a1a" stroke-width="1"/>
<rect x="448.51" y="456.8" width="3.1" height="9.5" fill="#000"/>
<line x1="452.61" y1="458.9" x2="452.61" y2="473.9" stroke="#1a1a1a" stroke-width="1"/>
<rect x="451.06" y="461.5" width="3.1" height="6.4" fill="#000"/>
<line x1="455.16" y1="460.8" x2="455.16" y2="473.0" stroke="#1a1a1a" stroke-width="1"/>
<rect x="453.61" y="464.7" width="3.1" height="7.3" fill="#000"/>
<line x1="457.71" y1="465.8" x2="457.71" y2="479.5" stroke="#1a1a1a" stroke-width="1"/>
<rect x="456.16" y="468.4" width="3.1" height="7.6" fill="#000"/>
<line x1="460.26" y1="471.2" x2="460.26" y2="484.1" stroke="#1a1a1a" stroke-width="1"/>
<rect x="458.71" y="472.2" width="3.1" height="8.7" fill="#555"/>
<line x1="462.82" y1="475.1" x2="462.82" y2="491.0" stroke="#1a1a1a" stroke-width="1"/>
<rect x="461.27" y="476.5" width="3.1" height="7.7" fill="#000"/>
<line x1="465.37" y1="477.7" x2="465.37" y2="491.2" stroke="#1a1a1a" stroke-width="1"/>
<rect x="463.82" y="480.4" width="3.1" height="8.4" fill="#000"/>
<line x1="467.92" y1="481.7" x2="467.92" y2="493.4" stroke="#1a1a1a" stroke-width="1"/>
<rect x="466.37" y="484.6" width="3.1" height="7.6" fill="#000"/>
<line x1="470.47" y1="487.5" x2="470.47" y2="497.4" stroke="#1a1a1a" stroke-width="1"/>
<rect x="468.92" y="488.4" width="3.1" height="7.2" fill="#555"/>
<line x1="473.02" y1="490.7" x2="473.02" y2="495.6" stroke="#1a1a1a" stroke-width="1"/>
<rect x="471.47" y="491.9" width="3.1" height="2.8" fill="#000"/>
<line x1="475.58" y1="490.1" x2="475.58" y2="494.2" stroke="#1a1a1a" stroke-width="1"/>
<rect x="474.03" y="492.6" width="3.1" height="1.2" fill="#000"/>
<line x1="478.13" y1="490.0" x2="478.13" y2="494.5" stroke="#1a1a1a" stroke-width="1"/>
<rect x="476.58" y="492.1" width="3.1" height="1.2" fill="#000"/>
<line x1="480.68" y1="485.8" x2="480.68" y2="493.5" stroke="#1a1a1a" stroke-width="1"/>
<rect x="479.13" y="487.4" width="3.1" height="5.3" fill="#000"/>
<line x1="483.23" y1="480.6" x2="483.23" y2="491.8" stroke="#1a1a1a" stroke-width="1"/>
<rect x="481.68" y="484.3" width="3.1" height="5.8" fill="#000"/>
<line x1="10" y1="481.2" x2="950" y2="481.2" stroke="#000" stroke-width="2" stroke-dasharray="2 3.74"/>
<line x1="455" y1="502.2" x2="514" y2="502.2" stroke="#1b2b1b" stroke-width="2" stroke-dasharray="2 3.3"/>
<rect x="146" y="129" width="46" height="14.2" fill="#4caf50"/>
<text x="169" y="139.4" font-family='"Liberation Sans", "DejaVu Sans", sans-serif' font-size="10.5" font-weight="bold" fill="#fff" text-anchor="middle" >+1,242%</text>
<rect x="276" y="501.3" width="43.8" height="14.2" fill="#f23645"/>
<text x="297.9" y="511.8" font-family='"Liberation Sans", "DejaVu Sans", sans-serif' font-size="10.5" font-weight="bold" fill="#fff" text-anchor="middle" >-89.10%</text>
<rect x="407.5" y="355.3" width="36.3" height="16.1" rx="1.5" fill="#fff" stroke="#333" stroke-width="1.2"/>
<text x="425.6" y="366.8" font-family='"Liberation Sans", "DejaVu Sans", sans-serif' font-size="10.2" font-weight="normal" fill="#131722" text-anchor="middle" stroke="#131722" stroke-width="0.25" >50 MA</text>
<rect x="784.5" y="75.3" width="139.5" height="34.2" fill="#000"/>
<text x="854.2" y="100.4" font-family='"Liberation Sans", "DejaVu Sans", sans-serif' font-size="21.3" font-weight="bold" fill="#fff" text-anchor="middle" >VIRTUAL-1D</text>
<line x1="8.6" y1="635.5" x2="950" y2="635.5" stroke="#9598a1" stroke-width="1.2" stroke-dasharray="4.8 5.5" opacity="0.8"/>
<rect x="10.61" y="635.50" width="1" height="0.30" fill="#26a69a"/>
<rect x="13.16" y="635.48" width="1" height="0.30" fill="#26a69a"/>
<rect x="15.72" y="635.47" width="1" height="0.30" fill="#26a69a"/>
<rect x="18.27" y="635.46" width="1" height="0.30" fill="#26a69a"/>
<rect x="20.82" y="635.45" width="1" height="0.30" fill="#26a69a"/>
<rect x="23.37" y="635.44" width="1" height="0.30" fill="#26a69a"/>
<rect x="25.92" y="635.43" width="1" height="0.30" fill="#26a69a"/>
<rect x="28.48" y="635.42" width="1" height="0.30" fill="#26a69a"/>
<rect x="31.03" y="635.40" width="1" height="0.30" fill="#26a69a"/>
<rect x="33.58" y="635.39" width="1" height="0.30" fill="#26a69a"/>
<rect x="36.13" y="635.38" width="1" height="0.30" fill="#26a69a"/>
<rect x="38.68" y="635.37" width="1" height="0.30" fill="#26a69a"/>
<rect x="41.24" y="635.36" width="1" height="0.30" fill="#26a69a"/>
<rect x="43.79" y="635.35" width="1" height="0.30" fill="#26a69a"/>
<rect x="46.34" y="635.34" width="1" height="0.30" fill="#26a69a"/>
<rect x="48.89" y="635.32" width="1" height="0.30" fill="#26a69a"/>
<rect x="51.44" y="635.31" width="1" height="0.30" fill="#26a69a"/>
<rect x="54.00" y="635.30" width="1" height="0.30" fill="#26a69a"/>
<rect x="56.55" y="635.29" width="1" height="0.30" fill="#26a69a"/>
<rect x="59.10" y="635.28" width="1" height="0.30" fill="#26a69a"/>
<rect x="61.65" y="635.26" width="1" height="0.30" fill="#26a69a"/>
<rect x="64.20" y="635.25" width="1" height="0.30" fill="#26a69a"/>
<rect x="66.76" y="635.23" width="1" height="0.30" fill="#26a69a"/>
<rect x="69.31" y="635.21" width="1" height="0.30" fill="#26a69a"/>
<rect x="71.86" y="635.19" width="1" height="0.31" fill="#26a69a"/>
<rect x="74.41" y="635.17" width="1" height="0.33" fill="#26a69a"/>
<rect x="76.96" y="635.16" width="1" height="0.34" fill="#26a69a"/>
<rect x="79.52" y="635.14" width="1" height="0.36" fill="#26a69a"/>
<rect x="82.07" y="635.12" width="1" height="0.38" fill="#26a69a"/>
<rect x="84.62" y="635.10" width="1" height="0.40" fill="#26a69a"/>
<rect x="87.17" y="635.09" width="1" height="0.41" fill="#26a69a"/>
<rect x="89.72" y="635.07" width="1" height="0.43" fill="#26a69a"/>
<rect x="92.28" y="635.05" width="1" height="0.45" fill="#26a69a"/>
<rect x="94.83" y="635.03" width="1" height="0.47" fill="#26a69a"/>
<rect x="97.38" y="635.01" width="1" height="0.49" fill="#26a69a"/>
<rect x="99.93" y="635.02" width="1" height="0.48" fill="#b2dfdb"/>
<rect x="102.48" y="635.14" width="1" height="0.36" fill="#b2dfdb"/>
<rect x="105.04" y="635.27" width="1" height="0.30" fill="#b2dfdb"/>
<rect x="107.59" y="635.39" width="1" height="0.30" fill="#b2dfdb"/>
<rect x="110.14" y="635.35" width="1" height="0.30" fill="#26a69a"/>
<rect x="112.69" y="634.82" width="1" height="0.68" fill="#26a69a"/>
<rect x="115.24" y="634.25" width="1" height="1.25" fill="#26a69a"/>
<rect x="117.80" y="633.68" width="1" height="1.82" fill="#26a69a"/>
<rect x="120.35" y="633.33" width="1" height="2.17" fill="#26a69a"/>
<rect x="122.90" y="633.08" width="1" height="2.42" fill="#26a69a"/>
<rect x="125.45" y="632.88" width="1" height="2.62" fill="#26a69a"/>
<rect x="128.00" y="632.76" width="1" height="2.74" fill="#26a69a"/>
<rect x="130.56" y="633.22" width="1" height="2.28" fill="#b2dfdb"/>
<rect x="133.11" y="633.81" width="1" height="1.69" fill="#b2dfdb"/>
<rect x="135.66" y="634.40" width="1" height="1.10" fill="#b2dfdb"/>
<rect x="138.21" y="634.99" width="1" height="0.51" fill="#b2dfdb"/>
<rect x="140.76" y="635.08" width="1" height="0.42" fill="#b2dfdb"/>
<rect x="143.32" y="635.13" width="1" height="0.37" fill="#b2dfdb"/>
<rect x="145.87" y="635.18" width="1" height="0.32" fill="#b2dfdb"/>
<rect x="148.42" y="635.24" width="1" height="0.30" fill="#b2dfdb"/>
<rect x="150.97" y="635.29" width="1" height="0.30" fill="#b2dfdb"/>
<rect x="153.52" y="635.39" width="1" height="0.30" fill="#b2dfdb"/>
<rect x="156.08" y="635.50" width="1" height="0.30" fill="#b2dfdb"/>
<rect x="158.63" y="635.50" width="1" height="0.30" fill="#ff5252"/>
<rect x="161.18" y="635.50" width="1" height="0.30" fill="#ff5252"/>
<rect x="163.73" y="635.50" width="1" height="0.32" fill="#ff5252"/>
<rect x="166.28" y="635.50" width="1" height="0.38" fill="#ff5252"/>
<rect x="168.84" y="635.50" width="1" height="0.32" fill="#ffcdd2"/>
<rect x="171.39" y="635.50" width="1" height="0.30" fill="#ffcdd2"/>
<rect x="173.94" y="635.50" width="1" height="0.30" fill="#ffcdd2"/>
<rect x="176.49" y="635.50" width="1" height="0.30" fill="#ffcdd2"/>
<rect x="179.04" y="635.50" width="1" height="0.30" fill="#ff5252"/>
<rect x="181.60" y="635.50" width="1" height="0.30" fill="#ff5252"/>
<rect x="184.15" y="635.50" width="1" height="0.30" fill="#ff5252"/>
<rect x="186.70" y="635.50" width="1" height="0.30" fill="#ff5252"/>
<rect x="189.25" y="635.50" width="1" height="0.30" fill="#ff5252"/>
<rect x="191.80" y="635.50" width="1" height="0.30" fill="#ff5252"/>
<rect x="194.36" y="635.50" width="1" height="0.30" fill="#ff5252"/>
<rect x="196.91" y="635.27" width="1" height="0.30" fill="#26a69a"/>
<rect x="199.46" y="634.81" width="1" height="0.69" fill="#26a69a"/>
<rect x="202.01" y="632.79" width="1" height="2.71" fill="#26a69a"/>
<rect x="204.56" y="630.74" width="1" height="4.76" fill="#26a69a"/>
<rect x="207.12" y="628.24" width="1" height="7.26" fill="#26a69a"/>
<rect x="209.67" y="625.92" width="1" height="9.58" fill="#26a69a"/>
<rect x="212.22" y="626.23" width="1" height="9.27" fill="#b2dfdb"/>
<rect x="214.77" y="626.57" width="1" height="8.93" fill="#b2dfdb"/>
<rect x="217.32" y="627.23" width="1" height="8.27" fill="#b2dfdb"/>
<rect x="219.88" y="627.91" width="1" height="7.59" fill="#b2dfdb"/>
<rect x="222.43" y="628.65" width="1" height="6.85" fill="#b2dfdb"/>
<rect x="224.98" y="629.39" width="1" height="6.11" fill="#b2dfdb"/>
<rect x="227.53" y="630.13" width="1" height="5.37" fill="#b2dfdb"/>
<rect x="230.08" y="630.85" width="1" height="4.65" fill="#b2dfdb"/>
<rect x="232.64" y="631.51" width="1" height="3.99" fill="#b2dfdb"/>
<rect x="235.19" y="632.16" width="1" height="3.34" fill="#b2dfdb"/>
<rect x="237.74" y="633.14" width="1" height="2.36" fill="#b2dfdb"/>
<rect x="240.29" y="634.47" width="1" height="1.03" fill="#b2dfdb"/>
<rect x="242.84" y="634.74" width="1" height="0.76" fill="#b2dfdb"/>
<rect x="245.40" y="634.05" width="1" height="1.45" fill="#26a69a"/>
<rect x="247.95" y="632.81" width="1" height="2.69" fill="#26a69a"/>
<rect x="250.50" y="631.15" width="1" height="4.35" fill="#26a69a"/>
<rect x="253.05" y="629.51" width="1" height="5.99" fill="#26a69a"/>
<rect x="255.60" y="627.87" width="1" height="7.63" fill="#26a69a"/>
<rect x="258.16" y="629.68" width="1" height="5.82" fill="#b2dfdb"/>
<rect x="260.71" y="633.36" width="1" height="2.14" fill="#b2dfdb"/>
<rect x="263.26" y="634.96" width="1" height="0.54" fill="#b2dfdb"/>
<rect x="265.81" y="635.50" width="1" height="0.30" fill="#ff5252"/>
<rect x="268.36" y="635.50" width="1" height="0.80" fill="#ff5252"/>
<rect x="270.92" y="635.50" width="1" height="0.72" fill="#ffcdd2"/>
<rect x="273.47" y="635.50" width="1" height="0.30" fill="#ffcdd2"/>
<rect x="276.02" y="634.89" width="1" height="0.61" fill="#26a69a"/>
<rect x="278.57" y="634.34" width="1" height="1.16" fill="#26a69a"/>
<rect x="281.12" y="633.79" width="1" height="1.71" fill="#26a69a"/>
<rect x="283.68" y="633.42" width="1" height="2.08" fill="#26a69a"/>
<rect x="286.23" y="633.23" width="1" height="2.27" fill="#26a69a"/>
<rect x="288.78" y="633.05" width="1" height="2.45" fill="#26a69a"/>
<rect x="291.33" y="632.00" width="1" height="3.50" fill="#26a69a"/>
<rect x="293.88" y="630.02" width="1" height="5.48" fill="#26a69a"/>
<rect x="296.44" y="627.56" width="1" height="7.94" fill="#26a69a"/>
<rect x="298.99" y="629.24" width="1" height="6.26" fill="#b2dfdb"/>
<rect x="301.54" y="630.57" width="1" height="4.93" fill="#b2dfdb"/>
<rect x="304.09" y="631.23" width="1" height="4.27" fill="#b2dfdb"/>
<rect x="306.64" y="633.22" width="1" height="2.28" fill="#b2dfdb"/>
<rect x="309.20" y="635.50" width="1" height="1.54" fill="#ff5252"/>
<rect x="311.75" y="635.50" width="1" height="5.33" fill="#ff5252"/>
<rect x="314.30" y="635.50" width="1" height="8.73" fill="#ff5252"/>
<rect x="316.85" y="635.50" width="1" height="12.14" fill="#ff5252"/>
<rect x="319.40" y="635.50" width="1" height="14.90" fill="#ff5252"/>
<rect x="321.96" y="635.50" width="1" height="16.23" fill="#ff5252"/>
<rect x="324.51" y="635.50" width="1" height="17.50" fill="#ff5252"/>
<rect x="327.06" y="635.50" width="1" height="16.44" fill="#ffcdd2"/>
<rect x="329.61" y="635.50" width="1" height="12.80" fill="#ffcdd2"/>
<rect x="332.16" y="635.50" width="1" height="8.76" fill="#ffcdd2"/>
<rect x="334.72" y="635.50" width="1" height="7.59" fill="#ffcdd2"/>
<rect x="337.27" y="635.50" width="1" height="7.41" fill="#ffcdd2"/>
<rect x="339.82" y="635.50" width="1" height="8.80" fill="#ff5252"/>
<rect x="342.37" y="635.50" width="1" height="9.51" fill="#ff5252"/>
<rect x="344.92" y="635.50" width="1" height="9.04" fill="#ffcdd2"/>
<rect x="347.48" y="635.50" width="1" height="8.57" fill="#ffcdd2"/>
<rect x="350.03" y="635.50" width="1" height="8.18" fill="#ffcdd2"/>
<rect x="352.58" y="635.50" width="1" height="8.21" fill="#ff5252"/>
<rect x="355.13" y="635.50" width="1" height="8.38" fill="#ff5252"/>
<rect x="357.68" y="635.50" width="1" height="8.51" fill="#ff5252"/>
<rect x="360.24" y="635.50" width="1" height="8.13" fill="#ffcdd2"/>
<rect x="362.79" y="635.50" width="1" height="7.75" fill="#ffcdd2"/>
<rect x="365.34" y="635.50" width="1" height="7.49" fill="#ffcdd2"/>
<rect x="367.89" y="635.50" width="1" height="7.45" fill="#ffcdd2"/>
<rect x="370.44" y="635.50" width="1" height="7.42" fill="#ffcdd2"/>
<rect x="373.00" y="635.50" width="1" height="7.20" fill="#ffcdd2"/>
<rect x="375.55" y="635.50" width="1" height="6.86" fill="#ffcdd2"/>
<rect x="378.10" y="635.50" width="1" height="6.42" fill="#ffcdd2"/>
<rect x="380.65" y="635.50" width="1" height="6.00" fill="#ffcdd2"/>
<rect x="383.20" y="635.50" width="1" height="6.00" fill="#ff5252"/>
<rect x="385.76" y="635.50" width="1" height="5.61" fill="#ffcdd2"/>
<rect x="388.31" y="635.50" width="1" height="4.80" fill="#ffcdd2"/>
<rect x="390.86" y="635.50" width="1" height="4.00" fill="#ffcdd2"/>
<rect x="393.41" y="635.50" width="1" height="2.59" fill="#ffcdd2"/>
<rect x="395.96" y="635.50" width="1" height="0.97" fill="#ffcdd2"/>
<rect x="398.52" y="634.63" width="1" height="0.87" fill="#26a69a"/>
<rect x="401.07" y="632.86" width="1" height="2.64" fill="#26a69a"/>
<rect x="403.62" y="631.35" width="1" height="4.15" fill="#26a69a"/>
<rect x="406.17" y="631.07" width="1" height="4.43" fill="#26a69a"/>
<rect x="408.72" y="631.43" width="1" height="4.07" fill="#b2dfdb"/>
<rect x="411.28" y="631.79" width="1" height="3.71" fill="#b2dfdb"/>
<rect x="413.83" y="631.75" width="1" height="3.75" fill="#26a69a"/>
<rect x="416.38" y="631.46" width="1" height="4.04" fill="#26a69a"/>
<rect x="418.93" y="631.22" width="1" height="4.28" fill="#26a69a"/>
<rect x="421.48" y="630.84" width="1" height="4.66" fill="#26a69a"/>
<rect x="424.04" y="630.41" width="1" height="5.09" fill="#26a69a"/>
<rect x="426.59" y="629.99" width="1" height="5.51" fill="#26a69a"/>
<rect x="429.14" y="629.56" width="1" height="5.94" fill="#26a69a"/>
<rect x="431.69" y="629.72" width="1" height="5.78" fill="#b2dfdb"/>
<rect x="434.24" y="629.97" width="1" height="5.53" fill="#b2dfdb"/>
<rect x="436.80" y="630.23" width="1" height="5.27" fill="#b2dfdb"/>
<rect x="439.35" y="630.48" width="1" height="5.02" fill="#b2dfdb"/>
<rect x="441.90" y="630.98" width="1" height="4.52" fill="#b2dfdb"/>
<rect x="444.45" y="631.49" width="1" height="4.01" fill="#b2dfdb"/>
<rect x="447.00" y="631.50" width="1" height="4.00" fill="#b2dfdb"/>
<rect x="449.56" y="631.52" width="1" height="3.98" fill="#b2dfdb"/>
<rect x="452.11" y="632.54" width="1" height="2.96" fill="#b2dfdb"/>
<rect x="454.66" y="633.52" width="1" height="1.98" fill="#b2dfdb"/>
<rect x="457.21" y="633.86" width="1" height="1.64" fill="#b2dfdb"/>
<rect x="459.76" y="634.23" width="1" height="1.27" fill="#b2dfdb"/>
<rect x="462.32" y="634.82" width="1" height="0.68" fill="#b2dfdb"/>
<rect x="464.87" y="635.42" width="1" height="0.30" fill="#b2dfdb"/>
<rect x="467.42" y="635.50" width="1" height="0.51" fill="#ff5252"/>
<rect x="469.97" y="635.50" width="1" height="0.94" fill="#ff5252"/>
<rect x="472.52" y="635.50" width="1" height="0.62" fill="#ffcdd2"/>
<rect x="475.08" y="635.50" width="1" height="0.30" fill="#ffcdd2"/>
<rect x="477.63" y="635.42" width="1" height="0.30" fill="#26a69a"/>
<rect x="480.18" y="633.89" width="1" height="1.61" fill="#26a69a"/>
<rect x="482.73" y="632.50" width="1" height="3.00" fill="#26a69a"/>
<path d="M10.0,635.5 L11.0,635.5 L12.0,635.5 L13.0,635.5 L14.0,635.5 L15.0,635.5 L16.0,635.5 L17.0,635.5 L18.0,635.5 L19.0,635.4 L20.0,635.4 L21.0,635.4 L22.0,635.4 L23.0,635.4 L24.0,635.4 L25.0,635.4 L26.0,635.4 L27.0,635.4 L28.0,635.4 L29.0,635.4 L30.0,635.4 L31.0,635.4 L32.0,635.4 L33.0,635.4 L34.0,635.4 L35.0,635.4 L36.0,635.4 L37.0,635.4 L38.0,635.3 L39.0,635.3 L40.0,635.3 L41.0,635.3 L42.0,635.3 L43.0,635.3 L44.0,635.3 L45.0,635.3 L46.0,635.3 L47.0,635.3 L48.0,635.3 L49.0,635.3 L50.0,635.3 L51.0,635.3 L52.0,635.3 L53.0,635.3 L54.0,635.3 L55.0,635.2 L56.0,635.2 L57.0,635.2 L58.0,635.2 L59.0,635.2 L60.0,635.2 L61.0,635.2 L62.0,635.2 L63.0,635.2 L64.0,635.2 L65.0,635.2 L66.0,635.2 L67.0,635.2 L68.0,635.2 L69.0,635.2 L70.0,635.2 L71.0,635.2 L72.0,635.2 L73.0,635.1 L74.0,635.1 L75.0,635.1 L76.0,635.1 L77.0,635.1 L78.0,635.1 L79.0,635.1 L80.0,635.1 L81.0,635.1 L82.0,635.1 L83.0,635.1 L84.0,635.1 L85.0,635.1 L86.0,635.1 L87.0,635.1 L88.0,635.1 L89.0,635.1 L90.0,635.1 L91.0,635.1 L92.0,635.0 L93.0,635.0 L94.0,635.0 L95.0,635.0 L96.0,635.0 L97.0,635.0 L98.0,635.0 L99.0,634.9 L100.0,634.9 L101.0,634.8 L102.0,634.7 L103.0,634.6 L104.0,634.4 L105.0,634.3 L106.0,634.1 L107.0,634.0 L108.0,633.8 L109.0,633.7 L110.0,633.5 L111.0,633.4 L112.0,633.2 L113.0,633.1 L114.0,632.9 L115.0,632.8 L116.0,632.7 L117.0,632.5 L118.0,632.4 L119.0,632.3 L120.0,632.2 L121.0,632.0 L122.0,631.9 L123.0,631.8 L124.0,631.6 L125.0,631.5 L126.0,631.3 L127.0,631.1 L128.0,630.9 L129.0,630.8 L130.0,630.6 L131.0,630.4 L132.0,630.2 L133.0,630.0 L134.0,629.8 L135.0,629.6 L136.0,629.5 L137.0,629.3 L138.0,629.2 L139.0,629.1 L140.0,629.0 L141.0,629.0 L142.0,629.0 L143.0,629.1 L144.0,629.1 L145.0,629.2 L146.0,629.2 L147.0,629.3 L148.0,629.3 L149.0,629.4 L150.0,629.4 L151.0,629.5 L152.0,629.5 L153.0,629.6 L154.0,629.6 L155.0,629.7 L156.0,629.8 L157.0,629.9 L158.0,629.9 L159.0,630.0 L160.0,630.1 L161.0,630.1 L162.0,630.2 L163.0,630.3 L164.0,630.3 L165.0,630.4 L166.0,630.4 L167.0,630.4 L168.0,630.4 L169.0,630.4 L170.0,630.4 L171.0,630.3 L172.0,630.3 L173.0,630.2 L174.0,630.2 L175.0,630.2 L176.0,630.1 L177.0,630.1 L178.0,630.1 L179.0,630.0 L180.0,630.0 L181.0,630.0 L182.0,629.9 L183.0,629.9 L184.0,629.9 L185.0,629.8 L186.0,629.8 L187.0,629.8 L188.0,629.7 L189.0,629.7 L190.0,629.7 L191.0,629.6 L192.0,629.6 L193.0,629.6 L194.0,629.5 L195.0,629.5 L196.0,629.4 L197.0,629.4 L198.0,629.3 L199.0,629.1 L200.0,628.9 L201.0,628.7 L202.0,628.4 L203.0,628.0 L204.0,627.6 L205.0,627.2 L206.0,626.8 L207.0,626.4 L208.0,625.9 L209.0,625.4 L210.0,624.8 L211.0,624.2 L212.0,623.5 L213.0,622.7 L214.0,621.9 L215.0,621.2 L216.0,620.4 L217.0,619.7 L218.0,619.0 L219.0,618.4 L220.0,617.8 L221.0,617.2 L222.0,616.6 L223.0,616.1 L224.0,615.5 L225.0,615.0 L226.0,614.4 L227.0,613.9 L228.0,613.4 L229.0,612.9 L230.0,612.5 L231.0,612.2 L232.0,611.9 L233.0,611.7 L234.0,611.5 L235.0,611.4 L236.0,611.2 L237.0,611.1 L238.0,610.9 L239.0,610.8 L240.0,610.6 L241.0,610.4 L242.0,610.1 L243.0,609.8 L244.0,609.3 L245.0,608.9 L246.0,608.3 L247.0,607.8 L248.0,607.2 L249.0,606.6 L250.0,606.2 L251.0,605.8 L252.0,605.4 L253.0,605.1 L254.0,604.9 L255.0,604.7 L256.0,604.5 L257.0,604.1 L258.0,603.7 L259.0,603.1 L260.0,602.6 L261.0,602.1 L262.0,601.7 L263.0,601.4 L264.0,601.2 L265.0,601.2 L266.0,601.2 L267.0,601.3 L268.0,601.3 L269.0,601.3 L270.0,601.3 L271.0,601.2 L272.0,601.1 L273.0,601.0 L274.0,600.8 L275.0,600.6 L276.0,600.3 L277.0,600.1 L278.0,599.8 L279.0,599.4 L280.0,599.1 L281.0,598.7 L282.0,598.4 L283.0,598.1 L284.0,597.8 L285.0,597.6 L286.0,597.4 L287.0,597.1 L288.0,596.8 L289.0,596.5 L290.0,596.0 L291.0,595.5 L292.0,594.8 L293.0,594.1 L294.0,593.4 L295.0,592.6 L296.0,591.8 L297.0,591.0 L298.0,590.3 L299.0,589.6 L300.0,589.0 L301.0,588.6 L302.0,588.2 L303.0,587.9 L304.0,587.8 L305.0,587.8 L306.0,587.8 L307.0,588.0 L308.0,588.2 L309.0,588.6 L310.0,589.1 L311.0,589.8 L312.0,590.6 L313.0,591.5 L314.0,592.4 L315.0,593.5 L316.0,594.7 L317.0,596.0 L318.0,597.4 L319.0,598.9 L320.0,600.5 L321.0,602.2 L322.0,604.1 L323.0,606.0 L324.0,607.9 L325.0,609.7 L326.0,611.4 L327.0,613.0 L328.0,614.3 L329.0,615.5 L330.0,616.5 L331.0,617.5 L332.0,618.3 L333.0,619.1 L334.0,619.9 L335.0,620.7 L336.0,621.5 L337.0,622.4 L338.0,623.3 L339.0,624.2 L340.0,625.2 L341.0,626.2 L342.0,627.3 L343.0,628.4 L344.0,629.5 L345.0,630.6 L346.0,631.7 L347.0,632.8 L348.0,633.8 L349.0,634.9 L350.0,635.9 L351.0,636.9 L352.0,637.8 L353.0,638.8 L354.0,639.7 L355.0,640.7 L356.0,641.6 L357.0,642.5 L358.0,643.5 L359.0,644.4 L360.0,645.3 L361.0,646.3 L362.0,647.2 L363.0,648.1 L364.0,649.0 L365.0,649.9 L366.0,650.7 L367.0,651.6 L368.0,652.4 L369.0,653.2 L370.0,654.0 L371.0,654.8 L372.0,655.6 L373.0,656.4 L374.0,657.2 L375.0,658.0 L376.0,658.8 L377.0,659.6 L378.0,660.4 L379.0,661.1 L380.0,661.7 L381.0,662.4 L382.0,663.0 L383.0,663.5 L384.0,664.0 L385.0,664.5 L386.0,665.0 L387.0,665.5 L388.0,666.0 L389.0,666.5 L390.0,666.9 L391.0,667.3 L392.0,667.6 L393.0,667.8 L394.0,667.9 L395.0,668.0 L396.0,668.0 L397.0,668.0 L398.0,668.0 L399.0,667.9 L400.0,667.8 L401.0,667.6 L402.0,667.4 L403.0,667.2 L404.0,666.9 L405.0,666.7 L406.0,666.4 L407.0,666.1 L408.0,665.9 L409.0,665.6 L410.0,665.3 L411.0,665.1 L412.0,664.8 L413.0,664.5 L414.0,664.2 L415.0,663.9 L416.0,663.6 L417.0,663.3 L418.0,663.0 L419.0,662.7 L420.0,662.3 L421.0,662.0 L422.0,661.7 L423.0,661.3 L424.0,661.0 L425.0,660.7 L426.0,660.3 L427.0,660.0 L428.0,659.7 L429.0,659.3 L430.0,658.9 L431.0,658.6 L432.0,658.2 L433.0,657.8 L434.0,657.4 L435.0,657.0 L436.0,656.6 L437.0,656.2 L438.0,655.8 L439.0,655.4 L440.0,655.0 L441.0,654.6 L442.0,654.2 L443.0,653.8 L444.0,653.5 L445.0,653.2 L446.0,652.9 L447.0,652.6 L448.0,652.4 L449.0,652.2 L450.0,652.0 L451.0,651.8 L452.0,651.6 L453.0,651.4 L454.0,651.3 L455.0,651.2 L456.0,651.2 L457.0,651.2 L458.0,651.2 L459.0,651.3 L460.0,651.3 L461.0,651.4 L462.0,651.5 L463.0,651.5 L464.0,651.6 L465.0,651.7 L466.0,651.7 L467.0,651.8 L468.0,651.9 L469.0,651.9 L470.0,651.9 L471.0,652.0 L472.0,652.0 L473.0,652.0 L474.0,652.0 L475.0,652.0 L476.0,652.0 L477.0,652.0 L478.0,652.0 L479.0,652.0 L480.0,652.0 L481.0,652.0 L482.0,652.0 L483.0,652.0" fill="none" stroke="#fd7f2c" stroke-width="1.6"/>
<path d="M10.0,635.5 L11.0,635.5 L12.0,635.5 L13.0,635.5 L14.0,635.5 L15.0,635.4 L16.0,635.4 L17.0,635.4 L18.0,635.4 L19.0,635.4 L20.0,635.4 L21.0,635.4 L22.0,635.4 L23.0,635.4 L24.0,635.4 L25.0,635.4 L26.0,635.3 L27.0,635.3 L28.0,635.3 L29.0,635.3 L30.0,635.3 L31.0,635.3 L32.0,635.3 L33.0,635.3 L34.0,635.3 L35.0,635.2 L36.0,635.2 L37.0,635.2 L38.0,635.2 L39.0,635.2 L40.0,635.2 L41.0,635.2 L42.0,635.2 L43.0,635.2 L44.0,635.2 L45.0,635.1 L46.0,635.1 L47.0,635.1 L48.0,635.1 L49.0,635.1 L50.0,635.1 L51.0,635.1 L52.0,635.1 L53.0,635.1 L54.0,635.1 L55.0,635.1 L56.0,635.0 L57.0,635.0 L58.0,635.0 L59.0,635.0 L60.0,635.0 L61.0,635.0 L62.0,635.0 L63.0,635.0 L64.0,634.9 L65.0,634.9 L66.0,634.9 L67.0,634.9 L68.0,634.9 L69.0,634.9 L70.0,634.9 L71.0,634.9 L72.0,634.9 L73.0,634.8 L74.0,634.8 L75.0,634.8 L76.0,634.8 L77.0,634.8 L78.0,634.8 L79.0,634.8 L80.0,634.8 L81.0,634.7 L82.0,634.7 L83.0,634.7 L84.0,634.7 L85.0,634.7 L86.0,634.7 L87.0,634.7 L88.0,634.6 L89.0,634.6 L90.0,634.6 L91.0,634.6 L92.0,634.6 L93.0,634.6 L94.0,634.6 L95.0,634.6 L96.0,634.6 L97.0,634.5 L98.0,634.5 L99.0,634.5 L100.0,634.4 L101.0,634.4 L102.0,634.3 L103.0,634.2 L104.0,634.1 L105.0,634.0 L106.0,633.9 L107.0,633.8 L108.0,633.7 L109.0,633.5 L110.0,633.3 L111.0,633.0 L112.0,632.8 L113.0,632.4 L114.0,632.1 L115.0,631.7 L116.0,631.4 L117.0,631.0 L118.0,630.7 L119.0,630.4 L120.0,630.1 L121.0,629.9 L122.0,629.6 L123.0,629.4 L124.0,629.1 L125.0,628.9 L126.0,628.7 L127.0,628.5 L128.0,628.3 L129.0,628.2 L130.0,628.2 L131.0,628.1 L132.0,628.1 L133.0,628.2 L134.0,628.2 L135.0,628.3 L136.0,628.3 L137.0,628.4 L138.0,628.4 L139.0,628.5 L140.0,628.5 L141.0,628.6 L142.0,628.6 L143.0,628.7 L144.0,628.8 L145.0,628.8 L146.0,628.9 L147.0,629.0 L148.0,629.0 L149.0,629.1 L150.0,629.2 L151.0,629.3 L152.0,629.3 L153.0,629.4 L154.0,629.5 L155.0,629.6 L156.0,629.8 L157.0,629.9 L158.0,630.0 L159.0,630.1 L160.0,630.2 L161.0,630.3 L162.0,630.4 L163.0,630.6 L164.0,630.6 L165.0,630.7 L166.0,630.8 L167.0,630.8 L168.0,630.8 L169.0,630.7 L170.0,630.7 L171.0,630.6 L172.0,630.5 L173.0,630.5 L174.0,630.4 L175.0,630.4 L176.0,630.3 L177.0,630.3 L178.0,630.2 L179.0,630.2 L180.0,630.2 L181.0,630.1 L182.0,630.1 L183.0,630.1 L184.0,630.0 L185.0,630.0 L186.0,630.0 L187.0,630.0 L188.0,629.9 L189.0,629.9 L190.0,629.9 L191.0,629.8 L192.0,629.8 L193.0,629.7 L194.0,629.6 L195.0,629.5 L196.0,629.4 L197.0,629.2 L198.0,628.8 L199.0,628.3 L200.0,627.7 L201.0,626.9 L202.0,626.0 L203.0,624.9 L204.0,623.6 L205.0,622.3 L206.0,621.0 L207.0,619.7 L208.0,618.5 L209.0,617.3 L210.0,616.2 L211.0,615.2 L212.0,614.3 L213.0,613.5 L214.0,612.9 L215.0,612.3 L216.0,611.7 L217.0,611.2 L218.0,610.8 L219.0,610.5 L220.0,610.1 L221.0,609.8 L222.0,609.5 L223.0,609.2 L224.0,609.0 L225.0,608.7 L226.0,608.4 L227.0,608.2 L228.0,608.0 L229.0,607.8 L230.0,607.7 L231.0,607.6 L232.0,607.6 L233.0,607.7 L234.0,607.7 L235.0,607.9 L236.0,608.1 L237.0,608.3 L238.0,608.6 L239.0,608.9 L240.0,609.1 L241.0,609.1 L242.0,609.0 L243.0,608.7 L244.0,608.3 L245.0,607.6 L246.0,606.7 L247.0,605.7 L248.0,604.6 L249.0,603.5 L250.0,602.5 L251.0,601.4 L252.0,600.4 L253.0,599.5 L254.0,598.7 L255.0,598.1 L256.0,597.8 L257.0,597.7 L258.0,597.8 L259.0,598.1 L260.0,598.5 L261.0,599.1 L262.0,599.7 L263.0,600.2 L264.0,600.6 L265.0,601.0 L266.0,601.3 L267.0,601.6 L268.0,601.8 L269.0,601.9 L270.0,601.9 L271.0,601.8 L272.0,601.6 L273.0,601.3 L274.0,600.8 L275.0,600.4 L276.0,599.9 L277.0,599.4 L278.0,598.8 L279.0,598.3 L280.0,597.7 L281.0,597.2 L282.0,596.7 L283.0,596.2 L284.0,595.8 L285.0,595.5 L286.0,595.1 L287.0,594.9 L288.0,594.4 L289.0,593.8 L290.0,593.1 L291.0,592.2 L292.0,591.0 L293.0,589.6 L294.0,588.1 L295.0,586.7 L296.0,585.5 L297.0,584.5 L298.0,583.7 L299.0,583.2 L300.0,582.9 L301.0,583.0 L302.0,583.1 L303.0,583.3 L304.0,583.6 L305.0,584.2 L306.0,585.0 L307.0,586.2 L308.0,587.5 L309.0,589.2 L310.0,591.1 L311.0,593.2 L312.0,595.4 L313.0,597.7 L314.0,600.1 L315.0,602.5 L316.0,605.0 L317.0,607.5 L318.0,610.0 L319.0,612.5 L320.0,615.0 L321.0,617.5 L322.0,620.0 L323.0,622.5 L324.0,624.7 L325.0,626.6 L326.0,628.1 L327.0,629.2 L328.0,629.7 L329.0,629.7 L330.0,629.4 L331.0,629.0 L332.0,628.7 L333.0,628.4 L334.0,628.3 L335.0,628.5 L336.0,629.2 L337.0,630.1 L338.0,631.1 L339.0,632.4 L340.0,633.7 L341.0,635.1 L342.0,636.4 L343.0,637.6 L344.0,638.7 L345.0,639.7 L346.0,640.6 L347.0,641.5 L348.0,642.4 L349.0,643.3 L350.0,644.2 L351.0,645.1 L352.0,646.1 L353.0,647.0 L354.0,648.0 L355.0,649.0 L356.0,650.0 L357.0,650.9 L358.0,651.8 L359.0,652.7 L360.0,653.5 L361.0,654.4 L362.0,655.1 L363.0,655.9 L364.0,656.7 L365.0,657.5 L366.0,658.3 L367.0,659.1 L368.0,659.9 L369.0,660.6 L370.0,661.4 L371.0,662.2 L372.0,662.9 L373.0,663.6 L374.0,664.3 L375.0,665.0 L376.0,665.6 L377.0,666.3 L378.0,666.9 L379.0,667.4 L380.0,668.0 L381.0,668.5 L382.0,669.0 L383.0,669.5 L384.0,669.9 L385.0,670.2 L386.0,670.6 L387.0,670.8 L388.0,671.1 L389.0,671.2 L390.0,671.3 L391.0,671.3 L392.0,671.1 L393.0,670.8 L394.0,670.4 L395.0,669.9 L396.0,669.2 L397.0,668.5 L398.0,667.8 L399.0,667.0 L400.0,666.3 L401.0,665.4 L402.0,664.6 L403.0,663.8 L404.0,663.2 L405.0,662.6 L406.0,662.2 L407.0,661.9 L408.0,661.6 L409.0,661.5 L410.0,661.4 L411.0,661.2 L412.0,661.0 L413.0,660.7 L414.0,660.4 L415.0,660.1 L416.0,659.7 L417.0,659.3 L418.0,658.8 L419.0,658.4 L420.0,657.9 L421.0,657.5 L422.0,657.0 L423.0,656.5 L424.0,656.0 L425.0,655.5 L426.0,655.0 L427.0,654.5 L428.0,654.0 L429.0,653.6 L430.0,653.2 L431.0,652.8 L432.0,652.4 L433.0,652.1 L434.0,651.8 L435.0,651.5 L436.0,651.2 L437.0,650.9 L438.0,650.6 L439.0,650.3 L440.0,650.1 L441.0,649.8 L442.0,649.6 L443.0,649.4 L444.0,649.2 L445.0,649.0 L446.0,648.8 L447.0,648.6 L448.0,648.5 L449.0,648.4 L450.0,648.3 L451.0,648.4 L452.0,648.5 L453.0,648.6 L454.0,648.8 L455.0,649.0 L456.0,649.2 L457.0,649.4 L458.0,649.6 L459.0,649.8 L460.0,650.1 L461.0,650.3 L462.0,650.6 L463.0,650.9 L464.0,651.2 L465.0,651.5 L466.0,651.8 L467.0,652.1 L468.0,652.3 L469.0,652.5 L470.0,652.6 L471.0,652.7 L472.0,652.7 L473.0,652.6 L474.0,652.5 L475.0,652.4 L476.0,652.2 L477.0,651.9 L478.0,651.6 L479.0,651.2 L480.0,650.7 L481.0,650.5 L482.0,650.2 L483.0,649.9" fill="none" stroke="#4d7cfe" stroke-width="1.6"/>
<g>
<circle cx="493.5" cy="558.6" r="10" fill="#f23645" stroke="#fff" stroke-width="0.9"/>
<circle cx="490.5" cy="558.6" r="10" fill="#f23645" stroke="#fff" stroke-width="0.9"/>
<circle cx="487.5" cy="558.6" r="10" fill="#f23645" stroke="#fff" stroke-width="0.9"/>
<circle cx="483.3" cy="558.6" r="10" fill="#a23bb5"/>
<circle cx="485" cy="558.6" r="10.2" fill="#f23645"/>
<circle cx="485" cy="558.6" r="7.9" fill="#fff"/>
<clipPath id="fc"><circle cx="485" cy="558.6" r="6.9"/></clipPath>
<g clip-path="url(#fc)">
<rect x="477" y="551" width="16" height="16" fill="#fff"/>
<rect x="477" y="551.4" width="16" height="2.3" fill="#ef4a4a"/>
<rect x="477" y="555.8" width="16" height="2.3" fill="#ef4a4a"/>
<rect x="477" y="561.6" width="16" height="5" fill="#ef4a4a"/>
<rect x="477" y="551" width="9.2" height="8.6" fill="#2f86e6"/>
</g></g>
<text x="9.7" y="18.2" font-family='"Liberation Sans", "DejaVu Sans", sans-serif' font-size="11.3" font-weight="normal" fill="#1e222d" text-anchor="start" stroke="#1e222d" stroke-width="0.25" >nileshrh73 published on TradingView.com, Mar 16, 2025 10:37 UTC</text>
<text x="17" y="43.4" font-family='"Liberation Sans", "DejaVu Sans", sans-serif' font-size="11.15" font-weight="normal" fill="#131722" text-anchor="start" stroke="#131722" stroke-width="0.25" >Virtuals Protocol · 1D · CRYPTO · Heikin Ashi</text>
<text x="251.7" y="43.4" font-family='"Liberation Sans", "DejaVu Sans", sans-serif' font-size="11" font-weight="normal" fill="#131722" text-anchor="start" stroke="#131722" stroke-width="0.25" >O0.65787</text>
<text x="306.3" y="43.4" font-family='"Liberation Sans", "DejaVu Sans", sans-serif' font-size="11" font-weight="normal" fill="#131722" text-anchor="start" stroke="#131722" stroke-width="0.25" >H0.79290</text>
<text x="361.3" y="43.4" font-family='"Liberation Sans", "DejaVu Sans", sans-serif' font-size="11" font-weight="normal" fill="#131722" text-anchor="start" stroke="#131722" stroke-width="0.25" >L0.65787</text>
<text x="413.7" y="43.4" font-family='"Liberation Sans", "DejaVu Sans", sans-serif' font-size="11" font-weight="normal" fill="#131722" text-anchor="start" stroke="#131722" stroke-width="0.25" >C0.75282</text>
<rect x="953.5" y="29.5" width="57.3" height="24.8" rx="4" fill="#fff" stroke="#eef0f3" stroke-width="1"/>
<text x="962.3" y="46.7" font-family='"Liberation Sans", "DejaVu Sans", sans-serif' font-size="11" font-weight="normal" fill="#131722" text-anchor="start" stroke="#131722" stroke-width="0.25" letter-spacing="-0.9">USD</text>
<text x="958.2" y="85.7" font-family='"Liberation Sans", "DejaVu Sans", sans-serif' font-size="12" font-weight="normal" fill="#131722" text-anchor="start" stroke="#131722" stroke-width="0.25" textLength="39.8" lengthAdjust="spacingAndGlyphs">6.00000</text>
<text x="958.2" y="123.8" font-family='"Liberation Sans", "DejaVu Sans", sans-serif' font-size="12" font-weight="normal" fill="#131722" text-anchor="start" stroke="#131722" stroke-width="0.25" textLength="39.8" lengthAdjust="spacingAndGlyphs">5.50000</text>
<text x="958.2" y="162.1" font-family='"Liberation Sans", "DejaVu Sans", sans-serif' font-size="12" font-weight="normal" fill="#131722" text-anchor="start" stroke="#131722" stroke-width="0.25" textLength="39.8" lengthAdjust="spacingAndGlyphs">5.00000</text>
<text x="958.2" y="200.5" font-family='"Liberation Sans", "DejaVu Sans", sans-serif' font-size="12" font-weight="normal" fill="#131722" text-anchor="start" stroke="#131722" stroke-width="0.25" textLength="39.8" lengthAdjust="spacingAndGlyphs">4.50000</text>
<text x="958.2" y="238.7" font-family='"Liberation Sans", "DejaVu Sans", sans-serif' font-size="12" font-weight="normal" fill="#131722" text-anchor="start" stroke="#131722" stroke-width="0.25" textLength="39.8" lengthAdjust="spacingAndGlyphs">4.00000</text>
<text x="958.2" y="276.8" font-family='"Liberation Sans", "DejaVu Sans", sans-serif' font-size="12" font-weight="normal" fill="#131722" text-anchor="start" stroke="#131722" stroke-width="0.25" textLength="39.8" lengthAdjust="spacingAndGlyphs">3.50000</text>
<text x="958.2" y="314.59999999999997" font-family='"Liberation Sans", "DejaVu Sans", sans-serif' font-size="12" font-weight="normal" fill="#131722" text-anchor="start" stroke="#131722" stroke-width="0.25" textLength="39.8" lengthAdjust="spacingAndGlyphs">3.00000</text>
<text x="958.2" y="353.09999999999997" font-family='"Liberation Sans", "DejaVu Sans", sans-serif' font-size="12" font-weight="normal" fill="#131722" text-anchor="start" stroke="#131722" stroke-width="0.25" textLength="39.8" lengthAdjust="spacingAndGlyphs">2.50000</text>
<text x="958.2" y="391.4" font-family='"Liberation Sans", "DejaVu Sans", sans-serif' font-size="12" font-weight="normal" fill="#131722" text-anchor="start" stroke="#131722" stroke-width="0.25" textLength="39.8" lengthAdjust="spacingAndGlyphs">2.00000</text>
<text x="958.2" y="430.09999999999997" font-family='"Liberation Sans", "DejaVu Sans", sans-serif' font-size="12" font-weight="normal" fill="#131722" text-anchor="start" stroke="#131722" stroke-width="0.25" textLength="39.8" lengthAdjust="spacingAndGlyphs">1.50000</text>
<text x="958.2" y="468.5" font-family='"Liberation Sans", "DejaVu Sans", sans-serif' font-size="12" font-weight="normal" fill="#131722" text-anchor="start" stroke="#131722" stroke-width="0.25" textLength="39.8" lengthAdjust="spacingAndGlyphs">1.00000</text>
<text x="958.2" y="506.8" font-family='"Liberation Sans", "DejaVu Sans", sans-serif' font-size="12" font-weight="normal" fill="#131722" text-anchor="start" stroke="#131722" stroke-width="0.25" textLength="39.8" lengthAdjust="spacingAndGlyphs">0.50000</text>
<text x="958.2" y="544.9000000000001" font-family='"Liberation Sans", "DejaVu Sans", sans-serif' font-size="12" font-weight="normal" fill="#131722" text-anchor="start" stroke="#131722" stroke-width="0.25" textLength="39.8" lengthAdjust="spacingAndGlyphs">0.00000</text>
<text x="958.2" y="599.9" font-family='"Liberation Sans", "DejaVu Sans", sans-serif' font-size="12" font-weight="normal" fill="#131722" text-anchor="start" stroke="#131722" stroke-width="0.25" textLength="39.8" lengthAdjust="spacingAndGlyphs">0.50000</text>
<text x="957.8" y="680" font-family='"Liberation Sans", "DejaVu Sans", sans-serif' font-size="12" font-weight="normal" fill="#131722" text-anchor="start" stroke="#131722" stroke-width="0.25" textLength="46" lengthAdjust="spacingAndGlyphs">−0.50000</text>
<rect x="950.4" y="441.3" width="53.4" height="16" rx="2" fill="#5b9cf6"/>
<text x="958" y="453.6" font-family='"Liberation Sans", "DejaVu Sans", sans-serif' font-size="12" font-weight="normal" fill="#131722" text-anchor="start" stroke="#131722" stroke-width="0.25" textLength="39.8" lengthAdjust="spacingAndGlyphs">1.19877</text>
<rect x="950.4" y="473.8" width="53.4" height="16" rx="2" fill="#000"/>
<text x="958" y="486.1" font-family='"Liberation Sans", "DejaVu Sans", sans-serif' font-size="12" font-weight="normal" fill="#fff" text-anchor="start" stroke="#fff" stroke-width="0.25" textLength="39.8" lengthAdjust="spacingAndGlyphs">0.77564</text>
<rect x="950.5" y="626.6" width="53.1" height="15.7" rx="2" fill="#26a69a"/>
<text x="957.8" y="638.7" font-family='"Liberation Sans", "DejaVu Sans", sans-serif' font-size="12" font-weight="normal" fill="#fff" text-anchor="start" stroke="#fff" stroke-width="0.25" textLength="40" lengthAdjust="spacingAndGlyphs">0.02188</text>
<rect x="950.5" y="643.1" width="59.1" height="15.7" rx="2" fill="#2962ff"/>
<text x="957.8" y="655.2" font-family='"Liberation Sans", "DejaVu Sans", sans-serif' font-size="12" font-weight="normal" fill="#fff" text-anchor="start" stroke="#fff" stroke-width="0.25" textLength="46" lengthAdjust="spacingAndGlyphs">−0.18377</text>
<rect x="950.5" y="659.3" width="59.1" height="15.4" rx="2" fill="#ff6d00"/>
<text x="957.8" y="671.3" font-family='"Liberation Sans", "DejaVu Sans", sans-serif' font-size="12" font-weight="normal" fill="#fff" text-anchor="start" stroke="#fff" stroke-width="0.25" textLength="46" lengthAdjust="spacingAndGlyphs">−0.20566</text>
<text x="59.6" y="699.2" font-family='"Liberation Sans", "DejaVu Sans", sans-serif' font-size="11.3" font-weight="normal" fill="#131722" text-anchor="middle" stroke="#131722" stroke-width="0.25" >Oct</text>
<text x="138.6" y="699.2" font-family='"Liberation Sans", "DejaVu Sans", sans-serif' font-size="11.3" font-weight="normal" fill="#131722" text-anchor="middle" stroke="#131722" stroke-width="0.25" >Nov</text>
<text x="215.2" y="699.2" font-family='"Liberation Sans", "DejaVu Sans", sans-serif' font-size="11.3" font-weight="normal" fill="#131722" text-anchor="middle" stroke="#131722" stroke-width="0.25" >Dec</text>
<text x="294.5" y="699.2" font-family='"Liberation Sans", "DejaVu Sans", sans-serif' font-size="11.3" font-weight="bold" fill="#131722" text-anchor="middle" >2025</text>
<text x="373.6" y="699.2" font-family='"Liberation Sans", "DejaVu Sans", sans-serif' font-size="11.3" font-weight="normal" fill="#131722" text-anchor="middle" stroke="#131722" stroke-width="0.25" >Feb</text>
<text x="445.3" y="699.2" font-family='"Liberation Sans", "DejaVu Sans", sans-serif' font-size="11.3" font-weight="normal" fill="#131722" text-anchor="middle" stroke="#131722" stroke-width="0.25" >Mar</text>
<text x="524" y="699.2" font-family='"Liberation Sans", "DejaVu Sans", sans-serif' font-size="11.3" font-weight="normal" fill="#131722" text-anchor="middle" stroke="#131722" stroke-width="0.25" >Apr</text>
<text x="600.8" y="699.2" font-family='"Liberation Sans", "DejaVu Sans", sans-serif' font-size="11.3" font-weight="normal" fill="#131722" text-anchor="middle" stroke="#131722" stroke-width="0.25" >May</text>
<text x="680.1" y="699.2" font-family='"Liberation Sans", "DejaVu Sans", sans-serif' font-size="11.3" font-weight="normal" fill="#131722" text-anchor="middle" stroke="#131722" stroke-width="0.25" >Jun</text>
<text x="756.4" y="699.2" font-family='"Liberation Sans", "DejaVu Sans", sans-serif' font-size="11.3" font-weight="normal" fill="#131722" text-anchor="middle" stroke="#131722" stroke-width="0.25" >Jul</text>
<text x="835.2" y="699.2" font-family='"Liberation Sans", "DejaVu Sans", sans-serif' font-size="11.3" font-weight="normal" fill="#131722" text-anchor="middle" stroke="#131722" stroke-width="0.25" >Aug</text>
<text x="914.5" y="699.2" font-family='"Liberation Sans", "DejaVu Sans", sans-serif' font-size="11.3" font-weight="normal" fill="#131722" text-anchor="middle" stroke="#131722" stroke-width="0.25" >Sep</text>
<g fill="#131722">
<path d="M9.1,720.3 H16.6 V729.6 H12.8 V723.8 H9.1 Z"/>
<circle cx="20.1" cy="721.9" r="1.7"/>
<path d="M23.3,720.3 H28.4 L23.9,729.6 H18.8 Z"/>
</g>
<text x="31.4" y="729.6" font-family='"Liberation Sans", "DejaVu Sans", sans-serif' font-size="12" font-weight="normal" fill="#2a2e39" text-anchor="start" stroke="#2a2e39" stroke-width="0.25" >TradingView</text>
</svg>
</body></html>
